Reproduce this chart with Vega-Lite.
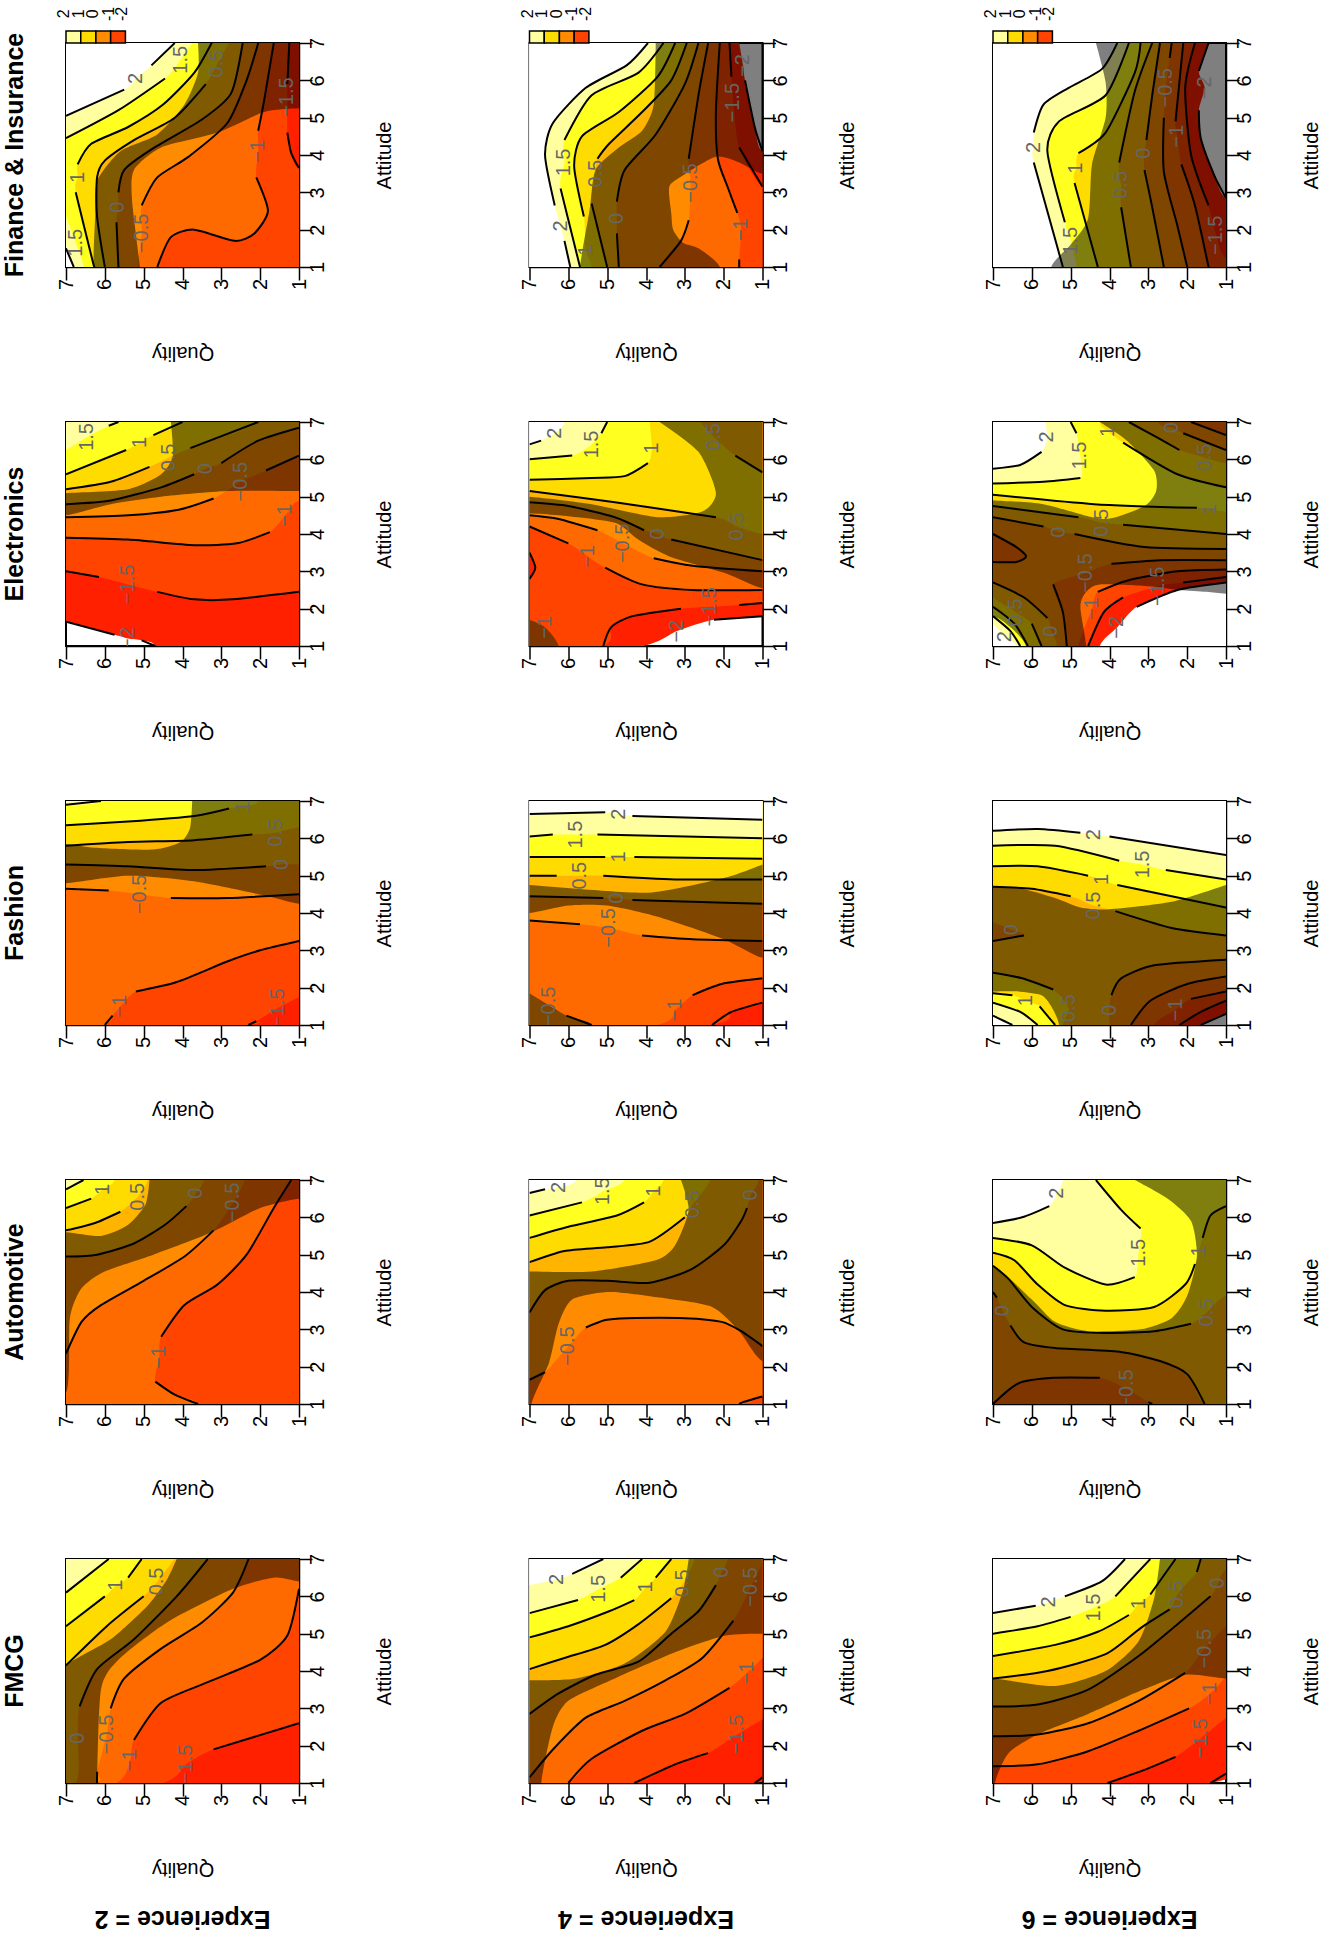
{"$schema":"https://vega.github.io/schema/vega-lite/v6.json","padding":{"left":2,"top":5,"right":0,"bottom":40},"background":"white","config":{"font":"Liberation Sans","view":{"stroke":"black","strokeWidth":2},"axis":{"titleFontSize":20,"titleFontWeight":"normal","titleColor":"black","tickSize":13,"tickWidth":1.5,"tickColor":"black","domainColor":"black","domainWidth":1.5,"grid":false,"labelAngle":270,"labelAlign":"center","labelBaseline":"middle","labelFontSize":20,"labelColor":"black"},"axisX":{"titleAngle":180,"titlePadding":73,"labelPadding":4},"axisY":{"titleAngle":270,"titlePadding":67,"labelPadding":5}},
"bounds":"flush","spacing":{"row":155,"column":230.5},"resolve":{"axis":{"x":"independent","y":"independent"}},
"facet":{"row":{"field":"c","type":"nominal","sort":["F","E","S","A","M"],"header":{"title":null,"labelExpr":"{'F':'Finance & Insurance','E':'Electronics','S':'Fashion','A':'Automotive','M':'FMCG'}[datum.value]","labelAngle":270,"labelOrient":"left","labelAlign":"center","labelFont":"Liberation Sans","labelFontWeight":"bold","labelFontSize":25,"labelColor":"black","labelPadding":13}},"column":{"field":"e","type":"ordinal","header":{"title":null,"labelExpr":"'Experience = '+datum.value","labelAngle":180,"labelOrient":"bottom","labelAlign":"center","labelFont":"Liberation Sans","labelFontWeight":"bold","labelFontSize":25,"labelColor":"black","labelPadding":148}}},
"data":{"values":[
{"c":"M","e":2,"g":1,"z":-2,"q":8,"a":0,"k":1},{"c":"M","e":2,"g":1,"z":-2,"q":8,"a":8,"k":1},{"c":"M","e":2,"g":1,"z":-2,"q":0,"a":8,"k":1},{"c":"M","e":2,"g":1,"z":-2,"q":0,"a":0,"k":1},
{"c":"M","e":2,"g":2,"z":-1.5,"q":1,"a":2.6},{"c":"M","e":2,"g":2,"z":-1.5,"q":3.2,"a":1.9},{"c":"M","e":2,"g":2,"z":-1.5,"q":3.9,"a":1.5,"s":"−1.5"},{"c":"M","e":2,"g":2,"z":-1.5,"q":4.5,"a":1},{"c":"M","e":2,"g":2,"z":-1.5,"q":8,"a":0,"k":1},{"c":"M","e":2,"g":2,"z":-1.5,"q":8,"a":8,"k":1},{"c":"M","e":2,"g":2,"z":-1.5,"q":0,"a":8,"k":1},{"c":"M","e":2,"g":2,"z":-1.5,"q":0,"a":2.6,"k":1},
{"c":"M","e":2,"g":3,"z":-1,"q":1,"a":6.2},{"c":"M","e":2,"g":3,"z":-1,"q":1.3,"a":4.95},{"c":"M","e":2,"g":3,"z":-1,"q":2,"a":4.3},{"c":"M","e":2,"g":3,"z":-1,"q":3.35,"a":3.7},{"c":"M","e":2,"g":3,"z":-1,"q":4.55,"a":3.15},{"c":"M","e":2,"g":3,"z":-1,"q":5.25,"a":2.15},{"c":"M","e":2,"g":3,"z":-1,"q":5.35,"a":1.6,"s":"−1"},{"c":"M","e":2,"g":3,"z":-1,"q":5.7,"a":1},{"c":"M","e":2,"g":3,"z":-1,"q":8,"a":0,"k":1},{"c":"M","e":2,"g":3,"z":-1,"q":8,"a":8,"k":1},{"c":"M","e":2,"g":3,"z":-1,"q":0,"a":8,"k":1},{"c":"M","e":2,"g":3,"z":-1,"q":0,"a":6.2,"k":1},
{"c":"M","e":2,"g":4,"z":-0.5,"q":2.3,"a":7},{"c":"M","e":2,"g":4,"z":-0.5,"q":2.7,"a":6.1},{"c":"M","e":2,"g":4,"z":-0.5,"q":3.5,"a":5.3},{"c":"M","e":2,"g":4,"z":-0.5,"q":4.55,"a":4.6},{"c":"M","e":2,"g":4,"z":-0.5,"q":5.5,"a":3.8},{"c":"M","e":2,"g":4,"z":-0.5,"q":5.85,"a":3},{"c":"M","e":2,"g":4,"z":-0.5,"q":5.95,"a":2.3,"s":"−0.5"},{"c":"M","e":2,"g":4,"z":-0.5,"q":6.2,"a":1.3},{"c":"M","e":2,"g":4,"z":-0.5,"q":6.2,"a":1},{"c":"M","e":2,"g":4,"z":-0.5,"q":8,"a":0,"k":1},{"c":"M","e":2,"g":4,"z":-0.5,"q":8,"a":8,"k":1},{"c":"M","e":2,"g":4,"z":-0.5,"q":2.3,"a":8,"k":1},
{"c":"M","e":2,"g":5,"z":0,"q":3.35,"a":7},{"c":"M","e":2,"g":5,"z":0,"q":4.15,"a":6},{"c":"M","e":2,"g":5,"z":0,"q":5.25,"a":4.85},{"c":"M","e":2,"g":5,"z":0,"q":6.2,"a":4.05},{"c":"M","e":2,"g":5,"z":0,"q":6.65,"a":3.05},{"c":"M","e":2,"g":5,"z":0,"q":6.7,"a":2.2,"s":"0"},{"c":"M","e":2,"g":5,"z":0,"q":6.75,"a":1},{"c":"M","e":2,"g":5,"z":0,"q":8,"a":0,"k":1},{"c":"M","e":2,"g":5,"z":0,"q":8,"a":8,"k":1},{"c":"M","e":2,"g":5,"z":0,"q":3.35,"a":8,"k":1},
{"c":"M","e":2,"g":6,"z":0.5,"q":4.2,"a":7},{"c":"M","e":2,"g":6,"z":0.5,"q":4.65,"a":6.4,"s":"0.5"},{"c":"M","e":2,"g":6,"z":0.5,"q":5,"a":6},{"c":"M","e":2,"g":6,"z":0.5,"q":5.95,"a":5.2},{"c":"M","e":2,"g":6,"z":0.5,"q":7,"a":4.15},{"c":"M","e":2,"g":6,"z":0.5,"q":8,"a":4.1,"k":1},{"c":"M","e":2,"g":6,"z":0.5,"q":8,"a":8,"k":1},{"c":"M","e":2,"g":6,"z":0.5,"q":4.2,"a":8,"k":1},
{"c":"M","e":2,"g":7,"z":1,"q":5.05,"a":7},{"c":"M","e":2,"g":7,"z":1,"q":5.4,"a":6.5},{"c":"M","e":2,"g":7,"z":1,"q":5.7,"a":6.3,"s":"1"},{"c":"M","e":2,"g":7,"z":1,"q":6,"a":6},{"c":"M","e":2,"g":7,"z":1,"q":7,"a":5.2},{"c":"M","e":2,"g":7,"z":1,"q":8,"a":5.2,"k":1},{"c":"M","e":2,"g":7,"z":1,"q":8,"a":8,"k":1},{"c":"M","e":2,"g":7,"z":1,"q":5.05,"a":8,"k":1},
{"c":"M","e":2,"g":8,"z":1.5,"q":5.9,"a":7},{"c":"M","e":2,"g":8,"z":1.5,"q":7,"a":6.1},{"c":"M","e":2,"g":8,"z":1.5,"q":8,"a":6.1,"k":1},{"c":"M","e":2,"g":8,"z":1.5,"q":8,"a":8,"k":1},{"c":"M","e":2,"g":8,"z":1.5,"q":5.9,"a":8,"k":1},
{"c":"M","e":2,"g":9,"z":9,"q":4.15,"a":7},{"c":"M","e":2,"g":9,"z":9,"q":4.4,"a":6.45},{"c":"M","e":2,"g":9,"z":9,"q":4.9,"a":5.75},{"c":"M","e":2,"g":9,"z":9,"q":5.85,"a":4.85},{"c":"M","e":2,"g":9,"z":9,"q":7,"a":4.15},{"c":"M","e":2,"g":9,"z":9,"q":8,"a":3},{"c":"M","e":2,"g":9,"z":9,"q":8,"a":0},{"c":"M","e":2,"g":9,"z":9,"q":6.2,"a":0},{"c":"M","e":2,"g":9,"z":9,"q":6.2,"a":1},{"c":"M","e":2,"g":9,"z":9,"q":6.1,"a":3.5},{"c":"M","e":2,"g":9,"z":9,"q":5.65,"a":4.3},{"c":"M","e":2,"g":9,"z":9,"q":4.4,"a":5.3},{"c":"M","e":2,"g":9,"z":9,"q":2.7,"a":6.2},{"c":"M","e":2,"g":9,"z":9,"q":1.65,"a":6.5},{"c":"M","e":2,"g":9,"z":9,"q":1,"a":6.4},{"c":"M","e":2,"g":9,"z":9,"q":0,"a":6.3},{"c":"M","e":2,"g":9,"z":9,"q":0,"a":8},{"c":"M","e":2,"g":9,"z":9,"q":4.15,"a":8},

{"c":"M","e":4,"g":1,"z":-2,"q":1,"a":1.15},{"c":"M","e":4,"g":1,"z":-2,"q":1.2,"a":1},{"c":"M","e":4,"g":1,"z":-2,"q":8,"a":0,"k":1},{"c":"M","e":4,"g":1,"z":-2,"q":8,"a":8,"k":1},{"c":"M","e":4,"g":1,"z":-2,"q":0,"a":8,"k":1},{"c":"M","e":4,"g":1,"z":-2,"q":0,"a":1.15,"k":1},
{"c":"M","e":4,"g":2,"z":-1.5,"q":1,"a":2.7},{"c":"M","e":4,"g":2,"z":-1.5,"q":1.65,"a":2.3,"s":"−1.5"},{"c":"M","e":4,"g":2,"z":-1.5,"q":2.4,"a":1.8},{"c":"M","e":4,"g":2,"z":-1.5,"q":3.25,"a":1.5},{"c":"M","e":4,"g":2,"z":-1.5,"q":4.3,"a":1},{"c":"M","e":4,"g":2,"z":-1.5,"q":8,"a":0,"k":1},{"c":"M","e":4,"g":2,"z":-1.5,"q":8,"a":8,"k":1},{"c":"M","e":4,"g":2,"z":-1.5,"q":0,"a":8,"k":1},{"c":"M","e":4,"g":2,"z":-1.5,"q":0,"a":2.7,"k":1},
{"c":"M","e":4,"g":3,"z":-1,"q":1,"a":4.35},{"c":"M","e":4,"g":3,"z":-1,"q":1.4,"a":3.95,"s":"−1"},{"c":"M","e":4,"g":3,"z":-1,"q":1.85,"a":3.55},{"c":"M","e":4,"g":3,"z":-1,"q":3,"a":2.85},{"c":"M","e":4,"g":3,"z":-1,"q":4.1,"a":2.4},{"c":"M","e":4,"g":3,"z":-1,"q":5.4,"a":1.65},{"c":"M","e":4,"g":3,"z":-1,"q":6,"a":1},{"c":"M","e":4,"g":3,"z":-1,"q":8,"a":0,"k":1},{"c":"M","e":4,"g":3,"z":-1,"q":8,"a":8,"k":1},{"c":"M","e":4,"g":3,"z":-1,"q":0,"a":8,"k":1},{"c":"M","e":4,"g":3,"z":-1,"q":0,"a":4.35,"k":1},
{"c":"M","e":4,"g":4,"z":-0.5,"q":1,"a":6.9},{"c":"M","e":4,"g":4,"z":-0.5,"q":1.3,"a":6.25,"s":"−0.5"},{"c":"M","e":4,"g":4,"z":-0.5,"q":1.75,"a":5.35},{"c":"M","e":4,"g":4,"z":-0.5,"q":2.55,"a":4.35},{"c":"M","e":4,"g":4,"z":-0.5,"q":3.5,"a":3.75},{"c":"M","e":4,"g":4,"z":-0.5,"q":4.55,"a":3.2},{"c":"M","e":4,"g":4,"z":-0.5,"q":5.55,"a":2.75},{"c":"M","e":4,"g":4,"z":-0.5,"q":6.35,"a":1.95},{"c":"M","e":4,"g":4,"z":-0.5,"q":7,"a":1.15},{"c":"M","e":4,"g":4,"z":-0.5,"q":8,"a":1,"k":1},{"c":"M","e":4,"g":4,"z":-0.5,"q":8,"a":8,"k":1},{"c":"M","e":4,"g":4,"z":-0.5,"q":1,"a":8,"k":1},
{"c":"M","e":4,"g":5,"z":0,"q":7,"a":2.85},{"c":"M","e":4,"g":5,"z":0,"q":6.25,"a":3.4},{"c":"M","e":4,"g":5,"z":0,"q":5.3,"a":3.9},{"c":"M","e":4,"g":5,"z":0,"q":4.2,"a":4.25},{"c":"M","e":4,"g":5,"z":0,"q":3.35,"a":5},{"c":"M","e":4,"g":5,"z":0,"q":2.65,"a":5.6},{"c":"M","e":4,"g":5,"z":0,"q":2.2,"a":6.3},{"c":"M","e":4,"g":5,"z":0,"q":2.05,"a":6.65,"s":"0"},{"c":"M","e":4,"g":5,"z":0,"q":1.9,"a":7},{"c":"M","e":4,"g":5,"z":0,"q":1.9,"a":8,"k":1},{"c":"M","e":4,"g":5,"z":0,"q":8,"a":8,"k":1},{"c":"M","e":4,"g":5,"z":0,"q":8,"a":2.85,"k":1},
{"c":"M","e":4,"g":6,"z":0.5,"q":7,"a":4.05},{"c":"M","e":4,"g":6,"z":0.5,"q":6.1,"a":4.35},{"c":"M","e":4,"g":6,"z":0.5,"q":5.05,"a":4.7},{"c":"M","e":4,"g":6,"z":0.5,"q":4.2,"a":5.25},{"c":"M","e":4,"g":6,"z":0.5,"q":3.35,"a":5.95},{"c":"M","e":4,"g":6,"z":0.5,"q":3.05,"a":6.35,"s":"0.5"},{"c":"M","e":4,"g":6,"z":0.5,"q":2.75,"a":7},{"c":"M","e":4,"g":6,"z":0.5,"q":2.75,"a":8,"k":1},{"c":"M","e":4,"g":6,"z":0.5,"q":8,"a":8,"k":1},{"c":"M","e":4,"g":6,"z":0.5,"q":8,"a":4.05,"k":1},
{"c":"M","e":4,"g":7,"z":1,"q":7,"a":4.9},{"c":"M","e":4,"g":7,"z":1,"q":6,"a":5.2},{"c":"M","e":4,"g":7,"z":1,"q":4.95,"a":5.6},{"c":"M","e":4,"g":7,"z":1,"q":4.3,"a":5.9},{"c":"M","e":4,"g":7,"z":1,"q":4,"a":6.25,"s":"1"},{"c":"M","e":4,"g":7,"z":1,"q":3.75,"a":6.5},{"c":"M","e":4,"g":7,"z":1,"q":3.35,"a":7},{"c":"M","e":4,"g":7,"z":1,"q":3.35,"a":8,"k":1},{"c":"M","e":4,"g":7,"z":1,"q":8,"a":8,"k":1},{"c":"M","e":4,"g":7,"z":1,"q":8,"a":4.9,"k":1},
{"c":"M","e":4,"g":8,"z":1.5,"q":7,"a":5.55},{"c":"M","e":4,"g":8,"z":1.5,"q":5.75,"a":5.9},{"c":"M","e":4,"g":8,"z":1.5,"q":5.2,"a":6.2,"s":"1.5"},{"c":"M","e":4,"g":8,"z":1.5,"q":4.65,"a":6.5},{"c":"M","e":4,"g":8,"z":1.5,"q":4.1,"a":7},{"c":"M","e":4,"g":8,"z":1.5,"q":4.1,"a":8,"k":1},{"c":"M","e":4,"g":8,"z":1.5,"q":8,"a":8,"k":1},{"c":"M","e":4,"g":8,"z":1.5,"q":8,"a":5.55,"k":1},
{"c":"M","e":4,"g":9,"z":2,"q":7,"a":6.3},{"c":"M","e":4,"g":9,"z":2,"q":6.3,"a":6.45,"s":"2"},{"c":"M","e":4,"g":9,"z":2,"q":5.9,"a":6.6},{"c":"M","e":4,"g":9,"z":2,"q":5.1,"a":7},{"c":"M","e":4,"g":9,"z":2,"q":5.1,"a":8,"k":1},{"c":"M","e":4,"g":9,"z":2,"q":8,"a":8,"k":1},{"c":"M","e":4,"g":9,"z":2,"q":8,"a":6.3,"k":1},
{"c":"M","e":4,"g":10,"z":9,"q":2.9,"a":7},{"c":"M","e":4,"g":10,"z":9,"q":3.05,"a":6.15},{"c":"M","e":4,"g":10,"z":9,"q":3.5,"a":5.05},{"c":"M","e":4,"g":10,"z":9,"q":4.55,"a":4.2},{"c":"M","e":4,"g":10,"z":9,"q":5.8,"a":3.8},{"c":"M","e":4,"g":10,"z":9,"q":7,"a":3.75},{"c":"M","e":4,"g":10,"z":9,"q":8,"a":3.75},{"c":"M","e":4,"g":10,"z":9,"q":8,"a":0},{"c":"M","e":4,"g":10,"z":9,"q":6.7,"a":0},{"c":"M","e":4,"g":10,"z":9,"q":6.7,"a":1},{"c":"M","e":4,"g":10,"z":9,"q":6.4,"a":2.5},{"c":"M","e":4,"g":10,"z":9,"q":6,"a":3.2},{"c":"M","e":4,"g":10,"z":9,"q":4.8,"a":3.8},{"c":"M","e":4,"g":10,"z":9,"q":3.25,"a":4.5},{"c":"M","e":4,"g":10,"z":9,"q":1.95,"a":4.95},{"c":"M","e":4,"g":10,"z":9,"q":1,"a":5},{"c":"M","e":4,"g":10,"z":9,"q":0,"a":5},{"c":"M","e":4,"g":10,"z":9,"q":0,"a":8},{"c":"M","e":4,"g":10,"z":9,"q":2.9,"a":8},

{"c":"M","e":6,"g":1,"z":-2,"q":1,"a":1.25},{"c":"M","e":6,"g":1,"z":-2,"q":1.4,"a":1},{"c":"M","e":6,"g":1,"z":-2,"q":8,"a":0,"k":1},{"c":"M","e":6,"g":1,"z":-2,"q":8,"a":8,"k":1},{"c":"M","e":6,"g":1,"z":-2,"q":0,"a":8,"k":1},{"c":"M","e":6,"g":1,"z":-2,"q":0,"a":1.25,"k":1},
{"c":"M","e":6,"g":2,"z":-1.5,"q":1,"a":2.75},{"c":"M","e":6,"g":2,"z":-1.5,"q":1.65,"a":2.2,"s":"−1.5"},{"c":"M","e":6,"g":2,"z":-1.5,"q":2.3,"a":1.7},{"c":"M","e":6,"g":2,"z":-1.5,"q":3.1,"a":1.35},{"c":"M","e":6,"g":2,"z":-1.5,"q":4.05,"a":1},{"c":"M","e":6,"g":2,"z":-1.5,"q":8,"a":0,"k":1},{"c":"M","e":6,"g":2,"z":-1.5,"q":8,"a":8,"k":1},{"c":"M","e":6,"g":2,"z":-1.5,"q":0,"a":8,"k":1},{"c":"M","e":6,"g":2,"z":-1.5,"q":0,"a":2.75,"k":1},
{"c":"M","e":6,"g":3,"z":-1,"q":1,"a":3.85},{"c":"M","e":6,"g":3,"z":-1,"q":1.4,"a":3.4,"s":"−1"},{"c":"M","e":6,"g":3,"z":-1,"q":1.95,"a":3},{"c":"M","e":6,"g":3,"z":-1,"q":3.25,"a":2.4},{"c":"M","e":6,"g":3,"z":-1,"q":4.55,"a":1.85},{"c":"M","e":6,"g":3,"z":-1,"q":5.85,"a":1.5},{"c":"M","e":6,"g":3,"z":-1,"q":7,"a":1.45},{"c":"M","e":6,"g":3,"z":-1,"q":8,"a":1.45,"k":1},{"c":"M","e":6,"g":3,"z":-1,"q":8,"a":8,"k":1},{"c":"M","e":6,"g":3,"z":-1,"q":0,"a":8,"k":1},{"c":"M","e":6,"g":3,"z":-1,"q":0,"a":3.85,"k":1},
{"c":"M","e":6,"g":4,"z":-0.5,"q":1,"a":5.2},{"c":"M","e":6,"g":4,"z":-0.5,"q":1.55,"a":4.6,"s":"−0.5"},{"c":"M","e":6,"g":4,"z":-0.5,"q":2.05,"a":3.95},{"c":"M","e":6,"g":4,"z":-0.5,"q":3.25,"a":3.2},{"c":"M","e":6,"g":4,"z":-0.5,"q":4.55,"a":2.6},{"c":"M","e":6,"g":4,"z":-0.5,"q":5.85,"a":2.3},{"c":"M","e":6,"g":4,"z":-0.5,"q":7,"a":2.25},{"c":"M","e":6,"g":4,"z":-0.5,"q":8,"a":2.25,"k":1},{"c":"M","e":6,"g":4,"z":-0.5,"q":8,"a":8,"k":1},{"c":"M","e":6,"g":4,"z":-0.5,"q":0,"a":8,"k":1},{"c":"M","e":6,"g":4,"z":-0.5,"q":0,"a":5.2,"k":1},
{"c":"M","e":6,"g":5,"z":0,"q":7,"a":3.05},{"c":"M","e":6,"g":5,"z":0,"q":5.85,"a":3.1},{"c":"M","e":6,"g":5,"z":0,"q":4.55,"a":3.5},{"c":"M","e":6,"g":5,"z":0,"q":3.25,"a":4.4},{"c":"M","e":6,"g":5,"z":0,"q":2.25,"a":5.25},{"c":"M","e":6,"g":5,"z":0,"q":1.4,"a":6},{"c":"M","e":6,"g":5,"z":0,"q":1.2,"a":6.35,"s":"0"},{"c":"M","e":6,"g":5,"z":0,"q":1,"a":6.7},{"c":"M","e":6,"g":5,"z":0,"q":0,"a":6.7,"k":1},{"c":"M","e":6,"g":5,"z":0,"q":0,"a":8,"k":1},{"c":"M","e":6,"g":5,"z":0,"q":8,"a":8,"k":1},{"c":"M","e":6,"g":5,"z":0,"q":8,"a":3.05,"k":1},
{"c":"M","e":6,"g":6,"z":0.5,"q":7,"a":3.8},{"c":"M","e":6,"g":6,"z":0.5,"q":5.6,"a":4},{"c":"M","e":6,"g":6,"z":0.5,"q":4.1,"a":4.45},{"c":"M","e":6,"g":6,"z":0.5,"q":3.2,"a":5.15},{"c":"M","e":6,"g":6,"z":0.5,"q":2.45,"a":5.65},{"c":"M","e":6,"g":6,"z":0.5,"q":2.25,"a":6.05,"s":"0.5"},{"c":"M","e":6,"g":6,"z":0.5,"q":1.75,"a":6.65},{"c":"M","e":6,"g":6,"z":0.5,"q":1.65,"a":7},{"c":"M","e":6,"g":6,"z":0.5,"q":1.65,"a":8,"k":1},{"c":"M","e":6,"g":6,"z":0.5,"q":8,"a":8,"k":1},{"c":"M","e":6,"g":6,"z":0.5,"q":8,"a":3.8,"k":1},
{"c":"M","e":6,"g":7,"z":1,"q":7,"a":4.4},{"c":"M","e":6,"g":7,"z":1,"q":5.4,"a":4.7},{"c":"M","e":6,"g":7,"z":1,"q":4.3,"a":5.05},{"c":"M","e":6,"g":7,"z":1,"q":3.5,"a":5.5},{"c":"M","e":6,"g":7,"z":1,"q":3.25,"a":5.8,"s":"1"},{"c":"M","e":6,"g":7,"z":1,"q":2.95,"a":6.05},{"c":"M","e":6,"g":7,"z":1,"q":2.3,"a":7},{"c":"M","e":6,"g":7,"z":1,"q":2.3,"a":8,"k":1},{"c":"M","e":6,"g":7,"z":1,"q":8,"a":8,"k":1},{"c":"M","e":6,"g":7,"z":1,"q":8,"a":4.4,"k":1},
{"c":"M","e":6,"g":8,"z":1.5,"q":7,"a":5},{"c":"M","e":6,"g":8,"z":1.5,"q":5.85,"a":5.2},{"c":"M","e":6,"g":8,"z":1.5,"q":5,"a":5.45},{"c":"M","e":6,"g":8,"z":1.5,"q":4.4,"a":5.7,"s":"1.5"},{"c":"M","e":6,"g":8,"z":1.5,"q":3.85,"a":6},{"c":"M","e":6,"g":8,"z":1.5,"q":2.95,"a":7},{"c":"M","e":6,"g":8,"z":1.5,"q":2.95,"a":8,"k":1},{"c":"M","e":6,"g":8,"z":1.5,"q":8,"a":8,"k":1},{"c":"M","e":6,"g":8,"z":1.5,"q":8,"a":5,"k":1},
{"c":"M","e":6,"g":9,"z":2,"q":7,"a":5.55},{"c":"M","e":6,"g":9,"z":2,"q":5.9,"a":5.75},{"c":"M","e":6,"g":9,"z":2,"q":5.55,"a":5.85,"s":"2"},{"c":"M","e":6,"g":9,"z":2,"q":5.15,"a":6},{"c":"M","e":6,"g":9,"z":2,"q":4.2,"a":6.4},{"c":"M","e":6,"g":9,"z":2,"q":3.6,"a":7},{"c":"M","e":6,"g":9,"z":2,"q":3.6,"a":8,"k":1},{"c":"M","e":6,"g":9,"z":2,"q":8,"a":8,"k":1},{"c":"M","e":6,"g":9,"z":2,"q":8,"a":5.55,"k":1},
{"c":"M","e":6,"g":10,"z":9,"q":2.7,"a":7},{"c":"M","e":6,"g":10,"z":9,"q":2.85,"a":5.95},{"c":"M","e":6,"g":10,"z":9,"q":3.25,"a":4.8},{"c":"M","e":6,"g":10,"z":9,"q":4.1,"a":4},{"c":"M","e":6,"g":10,"z":9,"q":5.4,"a":3.6},{"c":"M","e":6,"g":10,"z":9,"q":7,"a":3.8},{"c":"M","e":6,"g":10,"z":9,"q":8,"a":3.8},{"c":"M","e":6,"g":10,"z":9,"q":8,"a":0},{"c":"M","e":6,"g":10,"z":9,"q":6.95,"a":0},{"c":"M","e":6,"g":10,"z":9,"q":6.95,"a":1},{"c":"M","e":6,"g":10,"z":9,"q":6.6,"a":1.8},{"c":"M","e":6,"g":10,"z":9,"q":5.85,"a":2.3},{"c":"M","e":6,"g":10,"z":9,"q":4.55,"a":2.85},{"c":"M","e":6,"g":10,"z":9,"q":3.25,"a":3.45},{"c":"M","e":6,"g":10,"z":9,"q":2.05,"a":3.9},{"c":"M","e":6,"g":10,"z":9,"q":1,"a":3.8},{"c":"M","e":6,"g":10,"z":9,"q":0,"a":3.8},{"c":"M","e":6,"g":10,"z":9,"q":0,"a":8},{"c":"M","e":6,"g":10,"z":9,"q":2.7,"a":8},

{"c":"A","e":2,"g":1,"z":-1.5,"q":8,"a":0,"k":1},{"c":"A","e":2,"g":1,"z":-1.5,"q":8,"a":8,"k":1},{"c":"A","e":2,"g":1,"z":-1.5,"q":0,"a":8,"k":1},{"c":"A","e":2,"g":1,"z":-1.5,"q":0,"a":0,"k":1},
{"c":"A","e":2,"g":2,"z":-1,"q":1.2,"a":7},{"c":"A","e":2,"g":2,"z":-1,"q":1.65,"a":6.25},{"c":"A","e":2,"g":2,"z":-1,"q":2.35,"a":5},{"c":"A","e":2,"g":2,"z":-1,"q":3.1,"a":4.2},{"c":"A","e":2,"g":2,"z":-1,"q":3.95,"a":3.65},{"c":"A","e":2,"g":2,"z":-1,"q":4.55,"a":2.8},{"c":"A","e":2,"g":2,"z":-1,"q":4.6,"a":2.25,"s":"−1"},{"c":"A","e":2,"g":2,"z":-1,"q":4.7,"a":1.6},{"c":"A","e":2,"g":2,"z":-1,"q":4.2,"a":1.25},{"c":"A","e":2,"g":2,"z":-1,"q":3.6,"a":1},{"c":"A","e":2,"g":2,"z":-1,"q":3.6,"a":0,"k":1},{"c":"A","e":2,"g":2,"z":-1,"q":8,"a":0,"k":1},{"c":"A","e":2,"g":2,"z":-1,"q":8,"a":8,"k":1},{"c":"A","e":2,"g":2,"z":-1,"q":1.2,"a":8,"k":1},
{"c":"A","e":2,"g":3,"z":-0.5,"q":7,"a":2.35},{"c":"A","e":2,"g":3,"z":-0.5,"q":6.6,"a":3.2},{"c":"A","e":2,"g":3,"z":-0.5,"q":6.1,"a":3.65},{"c":"A","e":2,"g":3,"z":-0.5,"q":5,"a":4.3},{"c":"A","e":2,"g":3,"z":-0.5,"q":3.95,"a":4.95},{"c":"A","e":2,"g":3,"z":-0.5,"q":3.2,"a":5.65},{"c":"A","e":2,"g":3,"z":-0.5,"q":2.7,"a":6.4,"s":"−0.5"},{"c":"A","e":2,"g":3,"z":-0.5,"q":2.4,"a":7},{"c":"A","e":2,"g":3,"z":-0.5,"q":2.4,"a":8,"k":1},{"c":"A","e":2,"g":3,"z":-0.5,"q":8,"a":8,"k":1},{"c":"A","e":2,"g":3,"z":-0.5,"q":8,"a":2.35,"k":1},
{"c":"A","e":2,"g":4,"z":0,"q":7,"a":4.95},{"c":"A","e":2,"g":4,"z":0,"q":6.2,"a":5},{"c":"A","e":2,"g":4,"z":0,"q":5.25,"a":5.3},{"c":"A","e":2,"g":4,"z":0,"q":4.45,"a":5.8},{"c":"A","e":2,"g":4,"z":0,"q":3.9,"a":6.3},{"c":"A","e":2,"g":4,"z":0,"q":3.65,"a":6.65,"s":"0"},{"c":"A","e":2,"g":4,"z":0,"q":3.45,"a":7},{"c":"A","e":2,"g":4,"z":0,"q":3.45,"a":8,"k":1},{"c":"A","e":2,"g":4,"z":0,"q":8,"a":8,"k":1},{"c":"A","e":2,"g":4,"z":0,"q":8,"a":4.95,"k":1},
{"c":"A","e":2,"g":5,"z":0.5,"q":7,"a":5.65},{"c":"A","e":2,"g":5,"z":0.5,"q":6.25,"a":5.85},{"c":"A","e":2,"g":5,"z":0.5,"q":5.6,"a":6.15},{"c":"A","e":2,"g":5,"z":0.5,"q":5.15,"a":6.55,"s":"0.5"},{"c":"A","e":2,"g":5,"z":0.5,"q":4.9,"a":7},{"c":"A","e":2,"g":5,"z":0.5,"q":4.9,"a":8,"k":1},{"c":"A","e":2,"g":5,"z":0.5,"q":8,"a":8,"k":1},{"c":"A","e":2,"g":5,"z":0.5,"q":8,"a":5.65,"k":1},
{"c":"A","e":2,"g":6,"z":1,"q":7,"a":6.25},{"c":"A","e":2,"g":6,"z":1,"q":6.35,"a":6.5},{"c":"A","e":2,"g":6,"z":1,"q":6.05,"a":6.75,"s":"1"},{"c":"A","e":2,"g":6,"z":1,"q":5.75,"a":7},{"c":"A","e":2,"g":6,"z":1,"q":5.75,"a":8,"k":1},{"c":"A","e":2,"g":6,"z":1,"q":8,"a":8,"k":1},{"c":"A","e":2,"g":6,"z":1,"q":8,"a":6.25,"k":1},
{"c":"A","e":2,"g":7,"z":1.5,"q":7,"a":6.75},{"c":"A","e":2,"g":7,"z":1.5,"q":6.55,"a":7},{"c":"A","e":2,"g":7,"z":1.5,"q":6.55,"a":8,"k":1},{"c":"A","e":2,"g":7,"z":1.5,"q":8,"a":8,"k":1},{"c":"A","e":2,"g":7,"z":1.5,"q":8,"a":6.75,"k":1},
{"c":"A","e":2,"g":8,"z":9,"q":4.85,"a":7},{"c":"A","e":2,"g":8,"z":9,"q":4.95,"a":6.35},{"c":"A","e":2,"g":8,"z":9,"q":5.4,"a":5.8},{"c":"A","e":2,"g":8,"z":9,"q":6.1,"a":5.5},{"c":"A","e":2,"g":8,"z":9,"q":7,"a":5.6},{"c":"A","e":2,"g":8,"z":9,"q":8,"a":5.6},{"c":"A","e":2,"g":8,"z":9,"q":8,"a":1.3},{"c":"A","e":2,"g":8,"z":9,"q":7,"a":1.3},{"c":"A","e":2,"g":8,"z":9,"q":6.9,"a":3.3},{"c":"A","e":2,"g":8,"z":9,"q":6.6,"a":4.1},{"c":"A","e":2,"g":8,"z":9,"q":6,"a":4.55},{"c":"A","e":2,"g":8,"z":9,"q":4.75,"a":5},{"c":"A","e":2,"g":8,"z":9,"q":3.25,"a":5.6},{"c":"A","e":2,"g":8,"z":9,"q":2,"a":6.25},{"c":"A","e":2,"g":8,"z":9,"q":1,"a":6.5},{"c":"A","e":2,"g":8,"z":9,"q":0,"a":6.5},{"c":"A","e":2,"g":8,"z":9,"q":0,"a":8},{"c":"A","e":2,"g":8,"z":9,"q":4.85,"a":8},

{"c":"A","e":4,"g":1,"z":-1.5,"q":8,"a":0,"k":1},{"c":"A","e":4,"g":1,"z":-1.5,"q":8,"a":8,"k":1},{"c":"A","e":4,"g":1,"z":-1.5,"q":0,"a":8,"k":1},{"c":"A","e":4,"g":1,"z":-1.5,"q":0,"a":0,"k":1},
{"c":"A","e":4,"g":2,"z":-1,"q":1,"a":1.2},{"c":"A","e":4,"g":2,"z":-1,"q":1.5,"a":1.05},{"c":"A","e":4,"g":2,"z":-1,"q":1.6,"a":1},{"c":"A","e":4,"g":2,"z":-1,"q":8,"a":0,"k":1},{"c":"A","e":4,"g":2,"z":-1,"q":8,"a":8,"k":1},{"c":"A","e":4,"g":2,"z":-1,"q":0,"a":8,"k":1},{"c":"A","e":4,"g":2,"z":-1,"q":0,"a":1.2,"k":1},
{"c":"A","e":4,"g":3,"z":-0.5,"q":1,"a":2.55},{"c":"A","e":4,"g":3,"z":-0.5,"q":1.55,"a":2.95},{"c":"A","e":4,"g":3,"z":-0.5,"q":2.05,"a":3.2},{"c":"A","e":4,"g":3,"z":-0.5,"q":3,"a":3.3},{"c":"A","e":4,"g":3,"z":-0.5,"q":4.5,"a":3.3},{"c":"A","e":4,"g":3,"z":-0.5,"q":5.05,"a":3.25},{"c":"A","e":4,"g":3,"z":-0.5,"q":5.55,"a":3.05},{"c":"A","e":4,"g":3,"z":-0.5,"q":6,"a":2.55,"s":"−0.5"},{"c":"A","e":4,"g":3,"z":-0.5,"q":6.6,"a":1.85},{"c":"A","e":4,"g":3,"z":-0.5,"q":7,"a":1.65},{"c":"A","e":4,"g":3,"z":-0.5,"q":8,"a":1.65,"k":1},{"c":"A","e":4,"g":3,"z":-0.5,"q":8,"a":8,"k":1},{"c":"A","e":4,"g":3,"z":-0.5,"q":0,"a":8,"k":1},{"c":"A","e":4,"g":3,"z":-0.5,"q":0,"a":2.55,"k":1},
{"c":"A","e":4,"g":4,"z":0,"q":7,"a":3.45},{"c":"A","e":4,"g":4,"z":0,"q":6.6,"a":4.05},{"c":"A","e":4,"g":4,"z":0,"q":6,"a":4.3},{"c":"A","e":4,"g":4,"z":0,"q":5,"a":4.3},{"c":"A","e":4,"g":4,"z":0,"q":3.9,"a":4.25},{"c":"A","e":4,"g":4,"z":0,"q":2.85,"a":4.6},{"c":"A","e":4,"g":4,"z":0,"q":2,"a":5.25},{"c":"A","e":4,"g":4,"z":0,"q":1.55,"a":5.9},{"c":"A","e":4,"g":4,"z":0,"q":1.4,"a":6.25},{"c":"A","e":4,"g":4,"z":0,"q":1.3,"a":6.6,"s":"0"},{"c":"A","e":4,"g":4,"z":0,"q":1.1,"a":7},{"c":"A","e":4,"g":4,"z":0,"q":1.1,"a":8,"k":1},{"c":"A","e":4,"g":4,"z":0,"q":8,"a":8,"k":1},{"c":"A","e":4,"g":4,"z":0,"q":8,"a":3.45,"k":1},
{"c":"A","e":4,"g":5,"z":0.5,"q":7,"a":4.8},{"c":"A","e":4,"g":5,"z":0.5,"q":6.1,"a":5.1},{"c":"A","e":4,"g":5,"z":0.5,"q":5,"a":5.2},{"c":"A","e":4,"g":5,"z":0.5,"q":3.9,"a":5.35},{"c":"A","e":4,"g":5,"z":0.5,"q":3,"a":6},{"c":"A","e":4,"g":5,"z":0.5,"q":2.8,"a":6.35,"s":"0.5"},{"c":"A","e":4,"g":5,"z":0.5,"q":2.35,"a":7},{"c":"A","e":4,"g":5,"z":0.5,"q":2.35,"a":8,"k":1},{"c":"A","e":4,"g":5,"z":0.5,"q":8,"a":8,"k":1},{"c":"A","e":4,"g":5,"z":0.5,"q":8,"a":4.8,"k":1},
{"c":"A","e":4,"g":6,"z":1,"q":7,"a":5.45},{"c":"A","e":4,"g":6,"z":1,"q":6,"a":5.75},{"c":"A","e":4,"g":6,"z":1,"q":4.75,"a":6.05},{"c":"A","e":4,"g":6,"z":1,"q":4.05,"a":6.4},{"c":"A","e":4,"g":6,"z":1,"q":3.8,"a":6.7,"s":"1"},{"c":"A","e":4,"g":6,"z":1,"q":3.55,"a":7},{"c":"A","e":4,"g":6,"z":1,"q":3.55,"a":8,"k":1},{"c":"A","e":4,"g":6,"z":1,"q":8,"a":8,"k":1},{"c":"A","e":4,"g":6,"z":1,"q":8,"a":5.45,"k":1},
{"c":"A","e":4,"g":7,"z":1.5,"q":7,"a":6.05},{"c":"A","e":4,"g":7,"z":1.5,"q":5.65,"a":6.4},{"c":"A","e":4,"g":7,"z":1.5,"q":5.1,"a":6.7,"s":"1.5"},{"c":"A","e":4,"g":7,"z":1.5,"q":4.55,"a":7},{"c":"A","e":4,"g":7,"z":1.5,"q":4.55,"a":8,"k":1},{"c":"A","e":4,"g":7,"z":1.5,"q":8,"a":8,"k":1},{"c":"A","e":4,"g":7,"z":1.5,"q":8,"a":6.05,"k":1},
{"c":"A","e":4,"g":8,"z":2,"q":7,"a":6.65},{"c":"A","e":4,"g":8,"z":2,"q":6.6,"a":6.75},{"c":"A","e":4,"g":8,"z":2,"q":6.25,"a":6.8,"s":"2"},{"c":"A","e":4,"g":8,"z":2,"q":5.8,"a":7},{"c":"A","e":4,"g":8,"z":2,"q":5.8,"a":8,"k":1},{"c":"A","e":4,"g":8,"z":2,"q":8,"a":8,"k":1},{"c":"A","e":4,"g":8,"z":2,"q":8,"a":6.65,"k":1},
{"c":"A","e":4,"g":9,"z":9,"q":3.1,"a":7},{"c":"A","e":4,"g":9,"z":9,"q":2.9,"a":6.2},{"c":"A","e":4,"g":9,"z":9,"q":3.25,"a":5.25},{"c":"A","e":4,"g":9,"z":9,"q":3.75,"a":4.85},{"c":"A","e":4,"g":9,"z":9,"q":5.4,"a":4.55},{"c":"A","e":4,"g":9,"z":9,"q":7,"a":4.55},{"c":"A","e":4,"g":9,"z":9,"q":8,"a":4.55},{"c":"A","e":4,"g":9,"z":9,"q":8,"a":0},{"c":"A","e":4,"g":9,"z":9,"q":6.95,"a":0},{"c":"A","e":4,"g":9,"z":9,"q":6.95,"a":1},{"c":"A","e":4,"g":9,"z":9,"q":6.5,"a":2.1},{"c":"A","e":4,"g":9,"z":9,"q":6.25,"a":3.15},{"c":"A","e":4,"g":9,"z":9,"q":5.9,"a":3.8},{"c":"A","e":4,"g":9,"z":9,"q":4.95,"a":4},{"c":"A","e":4,"g":9,"z":9,"q":3.65,"a":3.85},{"c":"A","e":4,"g":9,"z":9,"q":2.3,"a":3.6},{"c":"A","e":4,"g":9,"z":9,"q":1.6,"a":2.95},{"c":"A","e":4,"g":9,"z":9,"q":1,"a":2.15},{"c":"A","e":4,"g":9,"z":9,"q":0,"a":2.15},{"c":"A","e":4,"g":9,"z":9,"q":0,"a":8},{"c":"A","e":4,"g":9,"z":9,"q":3.1,"a":8},

{"c":"A","e":6,"g":1,"z":-1,"q":8,"a":0,"k":1},{"c":"A","e":6,"g":1,"z":-1,"q":8,"a":8,"k":1},{"c":"A","e":6,"g":1,"z":-1,"q":0,"a":8,"k":1},{"c":"A","e":6,"g":1,"z":-1,"q":0,"a":0,"k":1},
{"c":"A","e":6,"g":2,"z":-0.5,"q":7,"a":1},{"c":"A","e":6,"g":2,"z":-0.5,"q":6.35,"a":1.55},{"c":"A","e":6,"g":2,"z":-0.5,"q":5.45,"a":1.7},{"c":"A","e":6,"g":2,"z":-0.5,"q":4.25,"a":1.7},{"c":"A","e":6,"g":2,"z":-0.5,"q":3.55,"a":1.4,"s":"−0.5"},{"c":"A","e":6,"g":2,"z":-0.5,"q":3,"a":1.05},{"c":"A","e":6,"g":2,"z":-0.5,"q":2.9,"a":1},{"c":"A","e":6,"g":2,"z":-0.5,"q":0,"a":0,"k":1},{"c":"A","e":6,"g":2,"z":-0.5,"q":0,"a":8,"k":1},{"c":"A","e":6,"g":2,"z":-0.5,"q":8,"a":8,"k":1},{"c":"A","e":6,"g":2,"z":-0.5,"q":8,"a":1,"k":1},
{"c":"A","e":6,"g":3,"z":0,"q":7,"a":4},{"c":"A","e":6,"g":3,"z":0,"q":6.9,"a":3.85},{"c":"A","e":6,"g":3,"z":0,"q":6.75,"a":3.5,"s":"0"},{"c":"A","e":6,"g":3,"z":0,"q":6.55,"a":3.1},{"c":"A","e":6,"g":3,"z":0,"q":6.2,"a":2.65},{"c":"A","e":6,"g":3,"z":0,"q":5.4,"a":2.5},{"c":"A","e":6,"g":3,"z":0,"q":3.75,"a":2.4},{"c":"A","e":6,"g":3,"z":0,"q":2.7,"a":2.15},{"c":"A","e":6,"g":3,"z":0,"q":2,"a":1.8},{"c":"A","e":6,"g":3,"z":0,"q":1.55,"a":1},{"c":"A","e":6,"g":3,"z":0,"q":0,"a":0,"k":1},{"c":"A","e":6,"g":3,"z":0,"q":0,"a":8,"k":1},{"c":"A","e":6,"g":3,"z":0,"q":8,"a":8,"k":1},{"c":"A","e":6,"g":3,"z":0,"q":8,"a":4,"k":1},
{"c":"A","e":6,"g":4,"z":0.5,"q":7,"a":4.7},{"c":"A","e":6,"g":4,"z":0.5,"q":6.6,"a":4.35},{"c":"A","e":6,"g":4,"z":0.5,"q":6,"a":3.6},{"c":"A","e":6,"g":4,"z":0.5,"q":5.2,"a":3},{"c":"A","e":6,"g":4,"z":0.5,"q":4.1,"a":2.9},{"c":"A","e":6,"g":4,"z":0.5,"q":2.85,"a":2.95},{"c":"A","e":6,"g":4,"z":0.5,"q":1.9,"a":3.15},{"c":"A","e":6,"g":4,"z":0.5,"q":1.5,"a":3.45,"s":"0.5"},{"c":"A","e":6,"g":4,"z":0.5,"q":1,"a":3.9},{"c":"A","e":6,"g":4,"z":0.5,"q":0,"a":3.9,"k":1},{"c":"A","e":6,"g":4,"z":0.5,"q":0,"a":8,"k":1},{"c":"A","e":6,"g":4,"z":0.5,"q":8,"a":8,"k":1},{"c":"A","e":6,"g":4,"z":0.5,"q":8,"a":4.7,"k":1},
{"c":"A","e":6,"g":5,"z":1,"q":7,"a":5.05},{"c":"A","e":6,"g":5,"z":1,"q":6.45,"a":4.85},{"c":"A","e":6,"g":5,"z":1,"q":5.85,"a":4.2},{"c":"A","e":6,"g":5,"z":1,"q":5.15,"a":3.65},{"c":"A","e":6,"g":5,"z":1,"q":4.1,"a":3.5},{"c":"A","e":6,"g":5,"z":1,"q":2.85,"a":3.6},{"c":"A","e":6,"g":5,"z":1,"q":2.05,"a":4.2},{"c":"A","e":6,"g":5,"z":1,"q":1.8,"a":4.75},{"c":"A","e":6,"g":5,"z":1,"q":1.7,"a":5.1,"s":"1"},{"c":"A","e":6,"g":5,"z":1,"q":1.6,"a":5.45},{"c":"A","e":6,"g":5,"z":1,"q":1.4,"a":6.05},{"c":"A","e":6,"g":5,"z":1,"q":1,"a":6.3},{"c":"A","e":6,"g":5,"z":1,"q":0,"a":6.3,"k":1},{"c":"A","e":6,"g":5,"z":1,"q":0,"a":8,"k":1},{"c":"A","e":6,"g":5,"z":1,"q":8,"a":8,"k":1},{"c":"A","e":6,"g":5,"z":1,"q":8,"a":5.05,"k":1},
{"c":"A","e":6,"g":6,"z":1.5,"q":7,"a":5.45},{"c":"A","e":6,"g":6,"z":1.5,"q":6,"a":5.25},{"c":"A","e":6,"g":6,"z":1.5,"q":5.15,"a":4.65},{"c":"A","e":6,"g":6,"z":1.5,"q":4.1,"a":4.2},{"c":"A","e":6,"g":6,"z":1.5,"q":3.35,"a":4.4},{"c":"A","e":6,"g":6,"z":1.5,"q":3.25,"a":5.05,"s":"1.5"},{"c":"A","e":6,"g":6,"z":1.5,"q":3.2,"a":5.7},{"c":"A","e":6,"g":6,"z":1.5,"q":3.7,"a":6.2},{"c":"A","e":6,"g":6,"z":1.5,"q":4.35,"a":7},{"c":"A","e":6,"g":6,"z":1.5,"q":4.35,"a":8,"k":1},{"c":"A","e":6,"g":6,"z":1.5,"q":8,"a":8,"k":1},{"c":"A","e":6,"g":6,"z":1.5,"q":8,"a":5.45,"k":1},
{"c":"A","e":6,"g":7,"z":2,"q":7,"a":5.85},{"c":"A","e":6,"g":7,"z":2,"q":6.25,"a":6},{"c":"A","e":6,"g":7,"z":2,"q":5.55,"a":6.3},{"c":"A","e":6,"g":7,"z":2,"q":5.35,"a":6.65,"s":"2"},{"c":"A","e":6,"g":7,"z":2,"q":5.2,"a":7},{"c":"A","e":6,"g":7,"z":2,"q":5.2,"a":8,"k":1},{"c":"A","e":6,"g":7,"z":2,"q":8,"a":8,"k":1},{"c":"A","e":6,"g":7,"z":2,"q":8,"a":5.85,"k":1},
{"c":"A","e":6,"g":8,"z":9,"q":3.35,"a":7},{"c":"A","e":6,"g":8,"z":9,"q":2.5,"a":6.5},{"c":"A","e":6,"g":8,"z":9,"q":1.9,"a":5.9},{"c":"A","e":6,"g":8,"z":9,"q":1.75,"a":4.95},{"c":"A","e":6,"g":8,"z":9,"q":2,"a":3.9},{"c":"A","e":6,"g":8,"z":9,"q":2.4,"a":3.3},{"c":"A","e":6,"g":8,"z":9,"q":3.2,"a":3},{"c":"A","e":6,"g":8,"z":9,"q":4.55,"a":2.95},{"c":"A","e":6,"g":8,"z":9,"q":5.4,"a":3.2},{"c":"A","e":6,"g":8,"z":9,"q":6,"a":3.8},{"c":"A","e":6,"g":8,"z":9,"q":7,"a":4.7},{"c":"A","e":6,"g":8,"z":9,"q":8,"a":4.7},{"c":"A","e":6,"g":8,"z":9,"q":8,"a":0},{"c":"A","e":6,"g":8,"z":9,"q":0,"a":0},{"c":"A","e":6,"g":8,"z":9,"q":0,"a":8},{"c":"A","e":6,"g":8,"z":9,"q":3.35,"a":8},

{"c":"S","e":2,"g":1,"z":-2,"q":8,"a":0,"k":1},{"c":"S","e":2,"g":1,"z":-2,"q":8,"a":8,"k":1},{"c":"S","e":2,"g":1,"z":-2,"q":0,"a":8,"k":1},{"c":"S","e":2,"g":1,"z":-2,"q":0,"a":0,"k":1},
{"c":"S","e":2,"g":2,"z":-1.5,"q":1,"a":1.75},{"c":"S","e":2,"g":2,"z":-1.5,"q":1.55,"a":1.45,"s":"−1.5"},{"c":"S","e":2,"g":2,"z":-1.5,"q":2.1,"a":1.1},{"c":"S","e":2,"g":2,"z":-1.5,"q":2.3,"a":1},{"c":"S","e":2,"g":2,"z":-1.5,"q":8,"a":0,"k":1},{"c":"S","e":2,"g":2,"z":-1.5,"q":8,"a":8,"k":1},{"c":"S","e":2,"g":2,"z":-1.5,"q":0,"a":8,"k":1},{"c":"S","e":2,"g":2,"z":-1.5,"q":0,"a":1.75,"k":1},
{"c":"S","e":2,"g":3,"z":-1,"q":1,"a":3.25},{"c":"S","e":2,"g":3,"z":-1,"q":2,"a":3},{"c":"S","e":2,"g":3,"z":-1,"q":2.85,"a":2.7},{"c":"S","e":2,"g":3,"z":-1,"q":4.15,"a":2.15},{"c":"S","e":2,"g":3,"z":-1,"q":5.2,"a":1.9},{"c":"S","e":2,"g":3,"z":-1,"q":5.6,"a":1.5,"s":"−1"},{"c":"S","e":2,"g":3,"z":-1,"q":5.8,"a":1.25},{"c":"S","e":2,"g":3,"z":-1,"q":6,"a":1},{"c":"S","e":2,"g":3,"z":-1,"q":8,"a":0,"k":1},{"c":"S","e":2,"g":3,"z":-1,"q":8,"a":8,"k":1},{"c":"S","e":2,"g":3,"z":-1,"q":0,"a":8,"k":1},{"c":"S","e":2,"g":3,"z":-1,"q":0,"a":3.25,"k":1},
{"c":"S","e":2,"g":4,"z":-0.5,"q":7,"a":4.65},{"c":"S","e":2,"g":4,"z":-0.5,"q":5.9,"a":4.6},{"c":"S","e":2,"g":4,"z":-0.5,"q":5.1,"a":4.5,"s":"−0.5"},{"c":"S","e":2,"g":4,"z":-0.5,"q":4.3,"a":4.4},{"c":"S","e":2,"g":4,"z":-0.5,"q":2.85,"a":4.4},{"c":"S","e":2,"g":4,"z":-0.5,"q":1,"a":4.5},{"c":"S","e":2,"g":4,"z":-0.5,"q":0,"a":4.5,"k":1},{"c":"S","e":2,"g":4,"z":-0.5,"q":0,"a":8,"k":1},{"c":"S","e":2,"g":4,"z":-0.5,"q":8,"a":8,"k":1},{"c":"S","e":2,"g":4,"z":-0.5,"q":8,"a":4.65,"k":1},
{"c":"S","e":2,"g":5,"z":0,"q":7,"a":5.3},{"c":"S","e":2,"g":5,"z":0,"q":5.4,"a":5.25},{"c":"S","e":2,"g":5,"z":0,"q":3.7,"a":5.15},{"c":"S","e":2,"g":5,"z":0,"q":1.85,"a":5.25},{"c":"S","e":2,"g":5,"z":0,"q":1.45,"a":5.3,"s":"0"},{"c":"S","e":2,"g":5,"z":0,"q":1,"a":5.3},{"c":"S","e":2,"g":5,"z":0,"q":0,"a":5.3,"k":1},{"c":"S","e":2,"g":5,"z":0,"q":0,"a":8,"k":1},{"c":"S","e":2,"g":5,"z":0,"q":8,"a":8,"k":1},{"c":"S","e":2,"g":5,"z":0,"q":8,"a":5.3,"k":1},
{"c":"S","e":2,"g":6,"z":0.5,"q":7,"a":5.8},{"c":"S","e":2,"g":6,"z":0.5,"q":5.4,"a":5.9},{"c":"S","e":2,"g":6,"z":0.5,"q":3.7,"a":5.95},{"c":"S","e":2,"g":6,"z":0.5,"q":2.2,"a":6.1},{"c":"S","e":2,"g":6,"z":0.5,"q":1.6,"a":6.15,"s":"0.5"},{"c":"S","e":2,"g":6,"z":0.5,"q":1,"a":6.3},{"c":"S","e":2,"g":6,"z":0.5,"q":0,"a":6.3,"k":1},{"c":"S","e":2,"g":6,"z":0.5,"q":0,"a":8,"k":1},{"c":"S","e":2,"g":6,"z":0.5,"q":8,"a":8,"k":1},{"c":"S","e":2,"g":6,"z":0.5,"q":8,"a":5.8,"k":1},
{"c":"S","e":2,"g":7,"z":1,"q":7,"a":6.35},{"c":"S","e":2,"g":7,"z":1,"q":5.4,"a":6.45},{"c":"S","e":2,"g":7,"z":1,"q":3.7,"a":6.6},{"c":"S","e":2,"g":7,"z":1,"q":2.8,"a":6.8},{"c":"S","e":2,"g":7,"z":1,"q":2.45,"a":6.85,"s":"1"},{"c":"S","e":2,"g":7,"z":1,"q":2.05,"a":7},{"c":"S","e":2,"g":7,"z":1,"q":2.05,"a":8,"k":1},{"c":"S","e":2,"g":7,"z":1,"q":8,"a":8,"k":1},{"c":"S","e":2,"g":7,"z":1,"q":8,"a":6.35,"k":1},
{"c":"S","e":2,"g":8,"z":1.5,"q":7,"a":6.9},{"c":"S","e":2,"g":8,"z":1.5,"q":6.1,"a":7},{"c":"S","e":2,"g":8,"z":1.5,"q":6.1,"a":8,"k":1},{"c":"S","e":2,"g":8,"z":1.5,"q":8,"a":8,"k":1},{"c":"S","e":2,"g":8,"z":1.5,"q":8,"a":6.9,"k":1},
{"c":"S","e":2,"g":9,"z":9,"q":3.75,"a":7},{"c":"S","e":2,"g":9,"z":9,"q":3.8,"a":6.3},{"c":"S","e":2,"g":9,"z":9,"q":4.05,"a":5.9},{"c":"S","e":2,"g":9,"z":9,"q":4.75,"a":5.7},{"c":"S","e":2,"g":9,"z":9,"q":6.25,"a":5.75},{"c":"S","e":2,"g":9,"z":9,"q":7,"a":5.85},{"c":"S","e":2,"g":9,"z":9,"q":8,"a":5.85},{"c":"S","e":2,"g":9,"z":9,"q":8,"a":4.8},{"c":"S","e":2,"g":9,"z":9,"q":7,"a":4.8},{"c":"S","e":2,"g":9,"z":9,"q":5.4,"a":5},{"c":"S","e":2,"g":9,"z":9,"q":3.7,"a":4.85},{"c":"S","e":2,"g":9,"z":9,"q":1.8,"a":4.45},{"c":"S","e":2,"g":9,"z":9,"q":1,"a":4.25},{"c":"S","e":2,"g":9,"z":9,"q":0,"a":4.25},{"c":"S","e":2,"g":9,"z":9,"q":0,"a":8},{"c":"S","e":2,"g":9,"z":9,"q":3.75,"a":8},

{"c":"S","e":4,"g":1,"z":-2,"q":8,"a":0,"k":1},{"c":"S","e":4,"g":1,"z":-2,"q":8,"a":8,"k":1},{"c":"S","e":4,"g":1,"z":-2,"q":0,"a":8,"k":1},{"c":"S","e":4,"g":1,"z":-2,"q":0,"a":0,"k":1},
{"c":"S","e":4,"g":2,"z":-1.5,"q":1,"a":1.6},{"c":"S","e":4,"g":2,"z":-1.5,"q":1.8,"a":1.35},{"c":"S","e":4,"g":2,"z":-1.5,"q":2.3,"a":1},{"c":"S","e":4,"g":2,"z":-1.5,"q":8,"a":0,"k":1},{"c":"S","e":4,"g":2,"z":-1.5,"q":8,"a":8,"k":1},{"c":"S","e":4,"g":2,"z":-1.5,"q":0,"a":8,"k":1},{"c":"S","e":4,"g":2,"z":-1.5,"q":0,"a":1.6,"k":1},
{"c":"S","e":4,"g":3,"z":-1,"q":1,"a":2.25},{"c":"S","e":4,"g":3,"z":-1,"q":2.05,"a":2.1},{"c":"S","e":4,"g":3,"z":-1,"q":2.8,"a":1.8},{"c":"S","e":4,"g":3,"z":-1,"q":3.25,"a":1.4,"s":"−1"},{"c":"S","e":4,"g":3,"z":-1,"q":3.7,"a":1},{"c":"S","e":4,"g":3,"z":-1,"q":8,"a":0,"k":1},{"c":"S","e":4,"g":3,"z":-1,"q":8,"a":8,"k":1},{"c":"S","e":4,"g":3,"z":-1,"q":0,"a":8,"k":1},{"c":"S","e":4,"g":3,"z":-1,"q":0,"a":2.25,"k":1},
{"c":"S","e":4,"g":4,"z":-0.5,"q":7,"a":3.8},{"c":"S","e":4,"g":4,"z":-0.5,"q":5.7,"a":3.7},{"c":"S","e":4,"g":4,"z":-0.5,"q":4.95,"a":3.6,"s":"−0.5"},{"c":"S","e":4,"g":4,"z":-0.5,"q":4.1,"a":3.4},{"c":"S","e":4,"g":4,"z":-0.5,"q":2.8,"a":3.3},{"c":"S","e":4,"g":4,"z":-0.5,"q":1,"a":3.25},{"c":"S","e":4,"g":4,"z":-0.5,"q":0,"a":3.25,"k":1},{"c":"S","e":4,"g":4,"z":-0.5,"q":0,"a":8,"k":1},{"c":"S","e":4,"g":4,"z":-0.5,"q":8,"a":8,"k":1},{"c":"S","e":4,"g":4,"z":-0.5,"q":8,"a":3.8,"k":1},
{"c":"S","e":4,"g":5,"z":-0.5,"q":7,"a":1.85},{"c":"S","e":4,"g":5,"z":-0.5,"q":6.5,"a":1.5,"s":"−0.5"},{"c":"S","e":4,"g":5,"z":-0.5,"q":6.05,"a":1.25},{"c":"S","e":4,"g":5,"z":-0.5,"q":5.4,"a":1},{"c":"S","e":4,"g":5,"z":-0.5,"q":5.4,"a":0,"k":1},{"c":"S","e":4,"g":5,"z":-0.5,"q":8,"a":0,"k":1},{"c":"S","e":4,"g":5,"z":-0.5,"q":8,"a":1.85,"k":1},
{"c":"S","e":4,"g":6,"z":0,"q":7,"a":4.45},{"c":"S","e":4,"g":6,"z":0,"q":5.1,"a":4.4},{"c":"S","e":4,"g":6,"z":0,"q":4.75,"a":4.4,"s":"0"},{"c":"S","e":4,"g":6,"z":0,"q":4.35,"a":4.35},{"c":"S","e":4,"g":6,"z":0,"q":2.8,"a":4.3},{"c":"S","e":4,"g":6,"z":0,"q":1,"a":4.25},{"c":"S","e":4,"g":6,"z":0,"q":0,"a":4.25,"k":1},{"c":"S","e":4,"g":6,"z":0,"q":0,"a":8,"k":1},{"c":"S","e":4,"g":6,"z":0,"q":8,"a":8,"k":1},{"c":"S","e":4,"g":6,"z":0,"q":8,"a":4.45,"k":1},
{"c":"S","e":4,"g":7,"z":0.5,"q":7,"a":5},{"c":"S","e":4,"g":7,"z":0.5,"q":6.3,"a":5},{"c":"S","e":4,"g":7,"z":0.5,"q":5.7,"a":5,"s":"0.5"},{"c":"S","e":4,"g":7,"z":0.5,"q":5.1,"a":5},{"c":"S","e":4,"g":7,"z":0.5,"q":3.25,"a":4.9},{"c":"S","e":4,"g":7,"z":0.5,"q":1,"a":4.9},{"c":"S","e":4,"g":7,"z":0.5,"q":0,"a":4.9,"k":1},{"c":"S","e":4,"g":7,"z":0.5,"q":0,"a":8,"k":1},{"c":"S","e":4,"g":7,"z":0.5,"q":8,"a":8,"k":1},{"c":"S","e":4,"g":7,"z":0.5,"q":8,"a":5,"k":1},
{"c":"S","e":4,"g":8,"z":1,"q":7,"a":5.5},{"c":"S","e":4,"g":8,"z":1,"q":5.05,"a":5.5},{"c":"S","e":4,"g":8,"z":1,"q":4.7,"a":5.5,"s":"1"},{"c":"S","e":4,"g":8,"z":1,"q":4.3,"a":5.5},{"c":"S","e":4,"g":8,"z":1,"q":1,"a":5.45},{"c":"S","e":4,"g":8,"z":1,"q":0,"a":5.45,"k":1},{"c":"S","e":4,"g":8,"z":1,"q":0,"a":8,"k":1},{"c":"S","e":4,"g":8,"z":1,"q":8,"a":8,"k":1},{"c":"S","e":4,"g":8,"z":1,"q":8,"a":5.5,"k":1},
{"c":"S","e":4,"g":9,"z":1.5,"q":7,"a":6.05},{"c":"S","e":4,"g":9,"z":1.5,"q":6.4,"a":6.1},{"c":"S","e":4,"g":9,"z":1.5,"q":5.8,"a":6.1,"s":"1.5"},{"c":"S","e":4,"g":9,"z":1.5,"q":5.25,"a":6.1},{"c":"S","e":4,"g":9,"z":1.5,"q":1,"a":6},{"c":"S","e":4,"g":9,"z":1.5,"q":0,"a":6,"k":1},{"c":"S","e":4,"g":9,"z":1.5,"q":0,"a":8,"k":1},{"c":"S","e":4,"g":9,"z":1.5,"q":8,"a":8,"k":1},{"c":"S","e":4,"g":9,"z":1.5,"q":8,"a":6.05,"k":1},
{"c":"S","e":4,"g":10,"z":2,"q":7,"a":6.65},{"c":"S","e":4,"g":10,"z":2,"q":5.05,"a":6.7},{"c":"S","e":4,"g":10,"z":2,"q":4.7,"a":6.65,"s":"2"},{"c":"S","e":4,"g":10,"z":2,"q":4.35,"a":6.6},{"c":"S","e":4,"g":10,"z":2,"q":1,"a":6.5},{"c":"S","e":4,"g":10,"z":2,"q":0,"a":6.5,"k":1},{"c":"S","e":4,"g":10,"z":2,"q":0,"a":8,"k":1},{"c":"S","e":4,"g":10,"z":2,"q":8,"a":8,"k":1},{"c":"S","e":4,"g":10,"z":2,"q":8,"a":6.65,"k":1},
{"c":"S","e":4,"g":11,"z":9,"q":1,"a":5.3},{"c":"S","e":4,"g":11,"z":9,"q":1.95,"a":4.95},{"c":"S","e":4,"g":11,"z":9,"q":3.85,"a":4.55},{"c":"S","e":4,"g":11,"z":9,"q":5.8,"a":4.65},{"c":"S","e":4,"g":11,"z":9,"q":7,"a":4.75},{"c":"S","e":4,"g":11,"z":9,"q":8,"a":4.75},{"c":"S","e":4,"g":11,"z":9,"q":8,"a":4},{"c":"S","e":4,"g":11,"z":9,"q":7,"a":4},{"c":"S","e":4,"g":11,"z":9,"q":6,"a":4.2},{"c":"S","e":4,"g":11,"z":9,"q":5,"a":4.2},{"c":"S","e":4,"g":11,"z":9,"q":3.7,"a":3.9},{"c":"S","e":4,"g":11,"z":9,"q":2,"a":3.3},{"c":"S","e":4,"g":11,"z":9,"q":1,"a":2.8},{"c":"S","e":4,"g":11,"z":9,"q":0,"a":2.8},{"c":"S","e":4,"g":11,"z":9,"q":0,"a":5.3},
{"c":"S","e":4,"g":12,"z":9,"q":7,"a":1.85},{"c":"S","e":4,"g":12,"z":9,"q":6.05,"a":1.25},{"c":"S","e":4,"g":12,"z":9,"q":5.4,"a":1},{"c":"S","e":4,"g":12,"z":9,"q":5.4,"a":0},{"c":"S","e":4,"g":12,"z":9,"q":8,"a":0},{"c":"S","e":4,"g":12,"z":9,"q":8,"a":1.85},

{"c":"S","e":6,"g":1,"z":0,"q":8,"a":0,"k":1},{"c":"S","e":6,"g":1,"z":0,"q":8,"a":8,"k":1},{"c":"S","e":6,"g":1,"z":0,"q":0,"a":8,"k":1},{"c":"S","e":6,"g":1,"z":0,"q":0,"a":0,"k":1},
{"c":"S","e":6,"g":2,"z":-0.5,"q":1,"a":2.75},{"c":"S","e":6,"g":2,"z":-0.5,"q":2.85,"a":2.6},{"c":"S","e":6,"g":2,"z":-0.5,"q":3.7,"a":2.25},{"c":"S","e":6,"g":2,"z":-0.5,"q":3.95,"a":1.8},{"c":"S","e":6,"g":2,"z":-0.5,"q":4,"a":1.4,"s":"0"},{"c":"S","e":6,"g":2,"z":-0.5,"q":4,"a":1},{"c":"S","e":6,"g":2,"z":-0.5,"q":4,"a":0,"k":1},{"c":"S","e":6,"g":2,"z":-0.5,"q":0,"a":0,"k":1},{"c":"S","e":6,"g":2,"z":-0.5,"q":0,"a":2.75,"k":1},
{"c":"S","e":6,"g":3,"z":-1,"q":3.45,"a":1},{"c":"S","e":6,"g":3,"z":-1,"q":2.95,"a":1.65},{"c":"S","e":6,"g":3,"z":-1,"q":2,"a":2.1},{"c":"S","e":6,"g":3,"z":-1,"q":1,"a":2.3},{"c":"S","e":6,"g":3,"z":-1,"q":0,"a":2.3,"k":1},{"c":"S","e":6,"g":3,"z":-1,"q":0,"a":0,"k":1},{"c":"S","e":6,"g":3,"z":-1,"q":3.45,"a":0,"k":1},
{"c":"S","e":6,"g":4,"z":-1.5,"q":1,"a":1.9},{"c":"S","e":6,"g":4,"z":-1.5,"q":1.9,"a":1.7},{"c":"S","e":6,"g":4,"z":-1.5,"q":2.3,"a":1.4,"s":"−1"},{"c":"S","e":6,"g":4,"z":-1.5,"q":2.85,"a":1},{"c":"S","e":6,"g":4,"z":-1.5,"q":2.85,"a":0,"k":1},{"c":"S","e":6,"g":4,"z":-1.5,"q":0,"a":0,"k":1},{"c":"S","e":6,"g":4,"z":-1.5,"q":0,"a":1.9,"k":1},
{"c":"S","e":6,"g":5,"z":-2,"q":2.2,"a":1},{"c":"S","e":6,"g":5,"z":-2,"q":1.65,"a":1.35},{"c":"S","e":6,"g":5,"z":-2,"q":1,"a":1.65},{"c":"S","e":6,"g":5,"z":-2,"q":0,"a":1.65,"k":1},{"c":"S","e":6,"g":5,"z":-2,"q":0,"a":0,"k":1},{"c":"S","e":6,"g":5,"z":-2,"q":2.2,"a":0,"k":1},
{"c":"S","e":6,"g":6,"z":2,"q":1.65,"a":1},{"c":"S","e":6,"g":6,"z":2,"q":1,"a":1.3},{"c":"S","e":6,"g":6,"z":2,"q":0,"a":1.3,"k":1},{"c":"S","e":6,"g":6,"z":2,"q":0,"a":0,"k":1},{"c":"S","e":6,"g":6,"z":2,"q":1.65,"a":0,"k":1},
{"c":"S","e":6,"g":7,"z":-0.5,"q":7,"a":3.75},{"c":"S","e":6,"g":7,"z":-0.5,"q":6.5,"a":3.55,"s":"0"},{"c":"S","e":6,"g":7,"z":-0.5,"q":6.2,"a":3.4},{"c":"S","e":6,"g":7,"z":-0.5,"q":7,"a":3.25},{"c":"S","e":6,"g":7,"z":-0.5,"q":8,"a":3.25,"k":1},{"c":"S","e":6,"g":7,"z":-0.5,"q":8,"a":3.75,"k":1},
{"c":"S","e":6,"g":8,"z":0.5,"q":7,"a":4.7},{"c":"S","e":6,"g":8,"z":0.5,"q":6,"a":4.65},{"c":"S","e":6,"g":8,"z":0.5,"q":5,"a":4.45},{"c":"S","e":6,"g":8,"z":0.5,"q":4.4,"a":4.2,"s":"0.5"},{"c":"S","e":6,"g":8,"z":0.5,"q":3.85,"a":4.05},{"c":"S","e":6,"g":8,"z":0.5,"q":2.4,"a":3.6},{"c":"S","e":6,"g":8,"z":0.5,"q":1,"a":3.4},{"c":"S","e":6,"g":8,"z":0.5,"q":0,"a":3.4,"k":1},{"c":"S","e":6,"g":8,"z":0.5,"q":0,"a":8,"k":1},{"c":"S","e":6,"g":8,"z":0.5,"q":8,"a":8,"k":1},{"c":"S","e":6,"g":8,"z":0.5,"q":8,"a":4.7,"k":1},
{"c":"S","e":6,"g":9,"z":1,"q":7,"a":5.25},{"c":"S","e":6,"g":9,"z":1,"q":5.85,"a":5.25},{"c":"S","e":6,"g":9,"z":1,"q":4.55,"a":5},{"c":"S","e":6,"g":9,"z":1,"q":4.2,"a":4.9,"s":"1"},{"c":"S","e":6,"g":9,"z":1,"q":3.8,"a":4.75},{"c":"S","e":6,"g":9,"z":1,"q":2.4,"a":4.45},{"c":"S","e":6,"g":9,"z":1,"q":1,"a":4.15},{"c":"S","e":6,"g":9,"z":1,"q":0,"a":4.15,"k":1},{"c":"S","e":6,"g":9,"z":1,"q":0,"a":8,"k":1},{"c":"S","e":6,"g":9,"z":1,"q":8,"a":8,"k":1},{"c":"S","e":6,"g":9,"z":1,"q":8,"a":5.25,"k":1},
{"c":"S","e":6,"g":10,"z":1.5,"q":7,"a":5.8},{"c":"S","e":6,"g":10,"z":1.5,"q":5.4,"a":5.8},{"c":"S","e":6,"g":10,"z":1.5,"q":3.75,"a":5.4},{"c":"S","e":6,"g":10,"z":1.5,"q":3.15,"a":5.3,"s":"1.5"},{"c":"S","e":6,"g":10,"z":1.5,"q":2.55,"a":5.15},{"c":"S","e":6,"g":10,"z":1.5,"q":1,"a":4.9},{"c":"S","e":6,"g":10,"z":1.5,"q":0,"a":4.9,"k":1},{"c":"S","e":6,"g":10,"z":1.5,"q":0,"a":8,"k":1},{"c":"S","e":6,"g":10,"z":1.5,"q":8,"a":8,"k":1},{"c":"S","e":6,"g":10,"z":1.5,"q":8,"a":5.8,"k":1},
{"c":"S","e":6,"g":11,"z":2,"q":7,"a":6.2},{"c":"S","e":6,"g":11,"z":2,"q":5.85,"a":6.25},{"c":"S","e":6,"g":11,"z":2,"q":4.75,"a":6.15},{"c":"S","e":6,"g":11,"z":2,"q":4.4,"a":6.1,"s":"2"},{"c":"S","e":6,"g":11,"z":2,"q":4,"a":6.05},{"c":"S","e":6,"g":11,"z":2,"q":1,"a":5.55},{"c":"S","e":6,"g":11,"z":2,"q":0,"a":5.55,"k":1},{"c":"S","e":6,"g":11,"z":2,"q":0,"a":8,"k":1},{"c":"S","e":6,"g":11,"z":2,"q":8,"a":8,"k":1},{"c":"S","e":6,"g":11,"z":2,"q":8,"a":6.2,"k":1},
{"c":"S","e":6,"g":12,"z":0.5,"q":7,"a":2.4},{"c":"S","e":6,"g":12,"z":0.5,"q":6.25,"a":2.25},{"c":"S","e":6,"g":12,"z":0.5,"q":5.45,"a":1.95},{"c":"S","e":6,"g":12,"z":0.5,"q":5.05,"a":1.45,"s":"0.5"},{"c":"S","e":6,"g":12,"z":0.5,"q":5.2,"a":1},{"c":"S","e":6,"g":12,"z":0.5,"q":5.2,"a":0,"k":1},{"c":"S","e":6,"g":12,"z":0.5,"q":8,"a":0,"k":1},{"c":"S","e":6,"g":12,"z":0.5,"q":8,"a":2.4,"k":1},
{"c":"S","e":6,"g":13,"z":1,"q":7,"a":1.85},{"c":"S","e":6,"g":13,"z":1,"q":6.5,"a":1.8},{"c":"S","e":6,"g":13,"z":1,"q":6.15,"a":1.65,"s":"1"},{"c":"S","e":6,"g":13,"z":1,"q":5.8,"a":1.5},{"c":"S","e":6,"g":13,"z":1,"q":5.4,"a":1},{"c":"S","e":6,"g":13,"z":1,"q":5.4,"a":0,"k":1},{"c":"S","e":6,"g":13,"z":1,"q":8,"a":0,"k":1},{"c":"S","e":6,"g":13,"z":1,"q":8,"a":1.85,"k":1},
{"c":"S","e":6,"g":14,"z":1.5,"q":7,"a":1.6},{"c":"S","e":6,"g":14,"z":1.5,"q":6.3,"a":1.35},{"c":"S","e":6,"g":14,"z":1.5,"q":5.85,"a":1},{"c":"S","e":6,"g":14,"z":1.5,"q":5.85,"a":0,"k":1},{"c":"S","e":6,"g":14,"z":1.5,"q":8,"a":0,"k":1},{"c":"S","e":6,"g":14,"z":1.5,"q":8,"a":1.6,"k":1},
{"c":"S","e":6,"g":15,"z":2,"q":7,"a":1.25},{"c":"S","e":6,"g":15,"z":2,"q":6.7,"a":1.1},{"c":"S","e":6,"g":15,"z":2,"q":6.5,"a":1},{"c":"S","e":6,"g":15,"z":2,"q":6.5,"a":0,"k":1},{"c":"S","e":6,"g":15,"z":2,"q":8,"a":0,"k":1},{"c":"S","e":6,"g":15,"z":2,"q":8,"a":1.25,"k":1},
{"c":"S","e":6,"g":16,"z":9,"q":1,"a":4.75},{"c":"S","e":6,"g":16,"z":9,"q":2.4,"a":4.3},{"c":"S","e":6,"g":16,"z":9,"q":4,"a":4.1},{"c":"S","e":6,"g":16,"z":9,"q":4.75,"a":4.15},{"c":"S","e":6,"g":16,"z":9,"q":5.4,"a":4.4},{"c":"S","e":6,"g":16,"z":9,"q":6.25,"a":4.65},{"c":"S","e":6,"g":16,"z":9,"q":7,"a":4.7},{"c":"S","e":6,"g":16,"z":9,"q":8,"a":4.7},{"c":"S","e":6,"g":16,"z":9,"q":8,"a":1.9},{"c":"S","e":6,"g":16,"z":9,"q":7,"a":1.9},{"c":"S","e":6,"g":16,"z":9,"q":6.35,"a":1.9},{"c":"S","e":6,"g":16,"z":9,"q":5.75,"a":1.8},{"c":"S","e":6,"g":16,"z":9,"q":5.5,"a":1.5},{"c":"S","e":6,"g":16,"z":9,"q":5.3,"a":1},{"c":"S","e":6,"g":16,"z":9,"q":5.3,"a":0},{"c":"S","e":6,"g":16,"z":9,"q":0,"a":0},{"c":"S","e":6,"g":16,"z":9,"q":0,"a":4.75},

{"c":"E","e":2,"g":1,"z":-2,"q":7,"a":1.65},{"c":"E","e":2,"g":1,"z":-2,"q":5.75,"a":1.3},{"c":"E","e":2,"g":1,"z":-2,"q":5.4,"a":1.2,"s":"−2"},{"c":"E","e":2,"g":1,"z":-2,"q":5.05,"a":1.15},{"c":"E","e":2,"g":1,"z":-2,"q":4.7,"a":1},{"c":"E","e":2,"g":1,"z":-2,"q":4.7,"a":0,"k":1},{"c":"E","e":2,"g":1,"z":-2,"q":0,"a":0,"k":1},{"c":"E","e":2,"g":1,"z":-2,"q":0,"a":8,"k":1},{"c":"E","e":2,"g":1,"z":-2,"q":8,"a":8,"k":1},{"c":"E","e":2,"g":1,"z":-2,"q":8,"a":1.65,"k":1},
{"c":"E","e":2,"g":2,"z":-1.5,"q":7,"a":3},{"c":"E","e":2,"g":2,"z":-1.5,"q":6.15,"a":2.85},{"c":"E","e":2,"g":2,"z":-1.5,"q":5.4,"a":2.65,"s":"−1.5"},{"c":"E","e":2,"g":2,"z":-1.5,"q":4.65,"a":2.45},{"c":"E","e":2,"g":2,"z":-1.5,"q":3.7,"a":2.25},{"c":"E","e":2,"g":2,"z":-1.5,"q":2.7,"a":2.25},{"c":"E","e":2,"g":2,"z":-1.5,"q":1,"a":2.45},{"c":"E","e":2,"g":2,"z":-1.5,"q":0,"a":2.45,"k":1},{"c":"E","e":2,"g":2,"z":-1.5,"q":0,"a":8,"k":1},{"c":"E","e":2,"g":2,"z":-1.5,"q":8,"a":8,"k":1},{"c":"E","e":2,"g":2,"z":-1.5,"q":8,"a":3,"k":1},
{"c":"E","e":2,"g":3,"z":-1,"q":7,"a":3.9},{"c":"E","e":2,"g":3,"z":-1,"q":5.4,"a":3.85},{"c":"E","e":2,"g":3,"z":-1,"q":3.7,"a":3.7},{"c":"E","e":2,"g":3,"z":-1,"q":2.6,"a":3.75},{"c":"E","e":2,"g":3,"z":-1,"q":1.75,"a":4.05},{"c":"E","e":2,"g":3,"z":-1,"q":1.35,"a":4.5,"s":"−1"},{"c":"E","e":2,"g":3,"z":-1,"q":1,"a":4.9},{"c":"E","e":2,"g":3,"z":-1,"q":0,"a":4.9,"k":1},{"c":"E","e":2,"g":3,"z":-1,"q":0,"a":8,"k":1},{"c":"E","e":2,"g":3,"z":-1,"q":8,"a":8,"k":1},{"c":"E","e":2,"g":3,"z":-1,"q":8,"a":3.9,"k":1},
{"c":"E","e":2,"g":4,"z":-0.5,"q":7,"a":4.45},{"c":"E","e":2,"g":4,"z":-0.5,"q":5.4,"a":4.5},{"c":"E","e":2,"g":4,"z":-0.5,"q":4.1,"a":4.65},{"c":"E","e":2,"g":4,"z":-0.5,"q":3.2,"a":4.95},{"c":"E","e":2,"g":4,"z":-0.5,"q":2.5,"a":5.4,"s":"−0.5"},{"c":"E","e":2,"g":4,"z":-0.5,"q":1.85,"a":5.7},{"c":"E","e":2,"g":4,"z":-0.5,"q":1,"a":6.1},{"c":"E","e":2,"g":4,"z":-0.5,"q":0,"a":6.1,"k":1},{"c":"E","e":2,"g":4,"z":-0.5,"q":0,"a":8,"k":1},{"c":"E","e":2,"g":4,"z":-0.5,"q":8,"a":8,"k":1},{"c":"E","e":2,"g":4,"z":-0.5,"q":8,"a":4.45,"k":1},
{"c":"E","e":2,"g":5,"z":0,"q":7,"a":4.8},{"c":"E","e":2,"g":5,"z":0,"q":5.85,"a":4.9},{"c":"E","e":2,"g":5,"z":0,"q":4.55,"a":5.25},{"c":"E","e":2,"g":5,"z":0,"q":3.7,"a":5.6},{"c":"E","e":2,"g":5,"z":0,"q":3.4,"a":5.75,"s":"0"},{"c":"E","e":2,"g":5,"z":0,"q":3,"a":5.9},{"c":"E","e":2,"g":5,"z":0,"q":2.05,"a":6.5},{"c":"E","e":2,"g":5,"z":0,"q":1,"a":6.85},{"c":"E","e":2,"g":5,"z":0,"q":0,"a":6.85,"k":1},{"c":"E","e":2,"g":5,"z":0,"q":0,"a":8,"k":1},{"c":"E","e":2,"g":5,"z":0,"q":8,"a":8,"k":1},{"c":"E","e":2,"g":5,"z":0,"q":8,"a":4.8,"k":1},
{"c":"E","e":2,"g":6,"z":0.5,"q":7,"a":5.2},{"c":"E","e":2,"g":6,"z":0.5,"q":5.85,"a":5.4},{"c":"E","e":2,"g":6,"z":0.5,"q":4.85,"a":5.8},{"c":"E","e":2,"g":6,"z":0.5,"q":4.35,"a":6.05,"s":"0.5"},{"c":"E","e":2,"g":6,"z":0.5,"q":3.8,"a":6.3},{"c":"E","e":2,"g":6,"z":0.5,"q":2.05,"a":7},{"c":"E","e":2,"g":6,"z":0.5,"q":2.05,"a":8,"k":1},{"c":"E","e":2,"g":6,"z":0.5,"q":8,"a":8,"k":1},{"c":"E","e":2,"g":6,"z":0.5,"q":8,"a":5.2,"k":1},
{"c":"E","e":2,"g":7,"z":1,"q":7,"a":5.6},{"c":"E","e":2,"g":7,"z":1,"q":5.45,"a":6.25},{"c":"E","e":2,"g":7,"z":1,"q":5.1,"a":6.45,"s":"1"},{"c":"E","e":2,"g":7,"z":1,"q":4.75,"a":6.65},{"c":"E","e":2,"g":7,"z":1,"q":4,"a":7},{"c":"E","e":2,"g":7,"z":1,"q":4,"a":8,"k":1},{"c":"E","e":2,"g":7,"z":1,"q":8,"a":8,"k":1},{"c":"E","e":2,"g":7,"z":1,"q":8,"a":5.6,"k":1},
{"c":"E","e":2,"g":8,"z":1.5,"q":7,"a":6.25},{"c":"E","e":2,"g":8,"z":1.5,"q":6.45,"a":6.6,"s":"1.5"},{"c":"E","e":2,"g":8,"z":1.5,"q":5.9,"a":6.9},{"c":"E","e":2,"g":8,"z":1.5,"q":5.65,"a":7},{"c":"E","e":2,"g":8,"z":1.5,"q":5.65,"a":8,"k":1},{"c":"E","e":2,"g":8,"z":1.5,"q":8,"a":8,"k":1},{"c":"E","e":2,"g":8,"z":1.5,"q":8,"a":6.25,"k":1},
{"c":"E","e":2,"g":9,"z":9,"q":4.3,"a":7},{"c":"E","e":2,"g":9,"z":9,"q":4.25,"a":6.1},{"c":"E","e":2,"g":9,"z":9,"q":4.55,"a":5.6},{"c":"E","e":2,"g":9,"z":9,"q":5.4,"a":5.2},{"c":"E","e":2,"g":9,"z":9,"q":7,"a":5.1},{"c":"E","e":2,"g":9,"z":9,"q":8,"a":5.1},{"c":"E","e":2,"g":9,"z":9,"q":8,"a":4.5},{"c":"E","e":2,"g":9,"z":9,"q":7,"a":4.5},{"c":"E","e":2,"g":9,"z":9,"q":5.85,"a":4.8},{"c":"E","e":2,"g":9,"z":9,"q":4.55,"a":5},{"c":"E","e":2,"g":9,"z":9,"q":2.85,"a":5.15},{"c":"E","e":2,"g":9,"z":9,"q":1,"a":5.15},{"c":"E","e":2,"g":9,"z":9,"q":0,"a":5.15},{"c":"E","e":2,"g":9,"z":9,"q":0,"a":8},{"c":"E","e":2,"g":9,"z":9,"q":4.3,"a":8},

{"c":"E","e":4,"g":1,"z":-2,"q":1,"a":1.8},{"c":"E","e":4,"g":1,"z":-2,"q":2.25,"a":1.7},{"c":"E","e":4,"g":1,"z":-2,"q":3.2,"a":1.4,"s":"−2"},{"c":"E","e":4,"g":1,"z":-2,"q":4.05,"a":1},{"c":"E","e":4,"g":1,"z":-2,"q":8,"a":0,"k":1},{"c":"E","e":4,"g":1,"z":-2,"q":8,"a":8,"k":1},{"c":"E","e":4,"g":1,"z":-2,"q":0,"a":8,"k":1},{"c":"E","e":4,"g":1,"z":-2,"q":0,"a":1.8,"k":1},
{"c":"E","e":4,"g":2,"z":-1.5,"q":1,"a":2.15},{"c":"E","e":4,"g":2,"z":-1.5,"q":1.6,"a":2.1},{"c":"E","e":4,"g":2,"z":-1.5,"q":2.35,"a":2.05,"s":"−1.5"},{"c":"E","e":4,"g":2,"z":-1.5,"q":3.1,"a":2},{"c":"E","e":4,"g":2,"z":-1.5,"q":4.35,"a":1.8},{"c":"E","e":4,"g":2,"z":-1.5,"q":4.9,"a":1.5},{"c":"E","e":4,"g":2,"z":-1.5,"q":5.1,"a":1},{"c":"E","e":4,"g":2,"z":-1.5,"q":8,"a":0,"k":1},{"c":"E","e":4,"g":2,"z":-1.5,"q":8,"a":8,"k":1},{"c":"E","e":4,"g":2,"z":-1.5,"q":0,"a":8,"k":1},{"c":"E","e":4,"g":2,"z":-1.5,"q":0,"a":2.15,"k":1},
{"c":"E","e":4,"g":3,"z":-1,"q":1,"a":2.5},{"c":"E","e":4,"g":3,"z":-1,"q":2.8,"a":2.5},{"c":"E","e":4,"g":3,"z":-1,"q":4.1,"a":2.65},{"c":"E","e":4,"g":3,"z":-1,"q":5.05,"a":3.1},{"c":"E","e":4,"g":3,"z":-1,"q":5.5,"a":3.4,"s":"−1"},{"c":"E","e":4,"g":3,"z":-1,"q":6,"a":3.75},{"c":"E","e":4,"g":3,"z":-1,"q":7,"a":4.2},{"c":"E","e":4,"g":3,"z":-1,"q":8,"a":4.2,"k":1},{"c":"E","e":4,"g":3,"z":-1,"q":8,"a":8,"k":1},{"c":"E","e":4,"g":3,"z":-1,"q":0,"a":8,"k":1},{"c":"E","e":4,"g":3,"z":-1,"q":0,"a":2.5,"k":1},
{"c":"E","e":4,"g":4,"z":-1,"q":7,"a":1.7},{"c":"E","e":4,"g":4,"z":-1,"q":6.6,"a":1.5,"s":"−1"},{"c":"E","e":4,"g":4,"z":-1,"q":6.25,"a":1},{"c":"E","e":4,"g":4,"z":-1,"q":6.25,"a":0,"k":1},{"c":"E","e":4,"g":4,"z":-1,"q":8,"a":0,"k":1},{"c":"E","e":4,"g":4,"z":-1,"q":8,"a":1.7,"k":1},
{"c":"E","e":4,"g":5,"z":-2,"q":7,"a":3.5},{"c":"E","e":4,"g":5,"z":-2,"q":6.85,"a":3.1},{"c":"E","e":4,"g":5,"z":-2,"q":7,"a":2.8},{"c":"E","e":4,"g":5,"z":-2,"q":8,"a":2.8,"k":1},{"c":"E","e":4,"g":5,"z":-2,"q":8,"a":3.5,"k":1},
{"c":"E","e":4,"g":6,"z":-0.5,"q":1,"a":3},{"c":"E","e":4,"g":6,"z":-0.5,"q":2.8,"a":3.15},{"c":"E","e":4,"g":6,"z":-0.5,"q":3.8,"a":3.35},{"c":"E","e":4,"g":6,"z":-0.5,"q":4.6,"a":3.75,"s":"−0.5"},{"c":"E","e":4,"g":6,"z":-0.5,"q":5.25,"a":4.1},{"c":"E","e":4,"g":6,"z":-0.5,"q":6.25,"a":4.4},{"c":"E","e":4,"g":6,"z":-0.5,"q":7,"a":4.5},{"c":"E","e":4,"g":6,"z":-0.5,"q":8,"a":4.5,"k":1},{"c":"E","e":4,"g":6,"z":-0.5,"q":8,"a":8,"k":1},{"c":"E","e":4,"g":6,"z":-0.5,"q":0,"a":8,"k":1},{"c":"E","e":4,"g":6,"z":-0.5,"q":0,"a":3,"k":1},
{"c":"E","e":4,"g":7,"z":0,"q":1,"a":3.3},{"c":"E","e":4,"g":7,"z":0,"q":3.35,"a":3.85},{"c":"E","e":4,"g":7,"z":0,"q":3.7,"a":4,"s":"0"},{"c":"E","e":4,"g":7,"z":0,"q":4.05,"a":4.1},{"c":"E","e":4,"g":7,"z":0,"q":4.8,"a":4.45},{"c":"E","e":4,"g":7,"z":0,"q":6,"a":4.75},{"c":"E","e":4,"g":7,"z":0,"q":7,"a":4.85},{"c":"E","e":4,"g":7,"z":0,"q":8,"a":4.85,"k":1},{"c":"E","e":4,"g":7,"z":0,"q":8,"a":8,"k":1},{"c":"E","e":4,"g":7,"z":0,"q":0,"a":8,"k":1},{"c":"E","e":4,"g":7,"z":0,"q":0,"a":3.3,"k":1},
{"c":"E","e":4,"g":8,"z":0.5,"q":2.6,"a":7},{"c":"E","e":4,"g":8,"z":0.5,"q":2.25,"a":6.6,"s":"0.5"},{"c":"E","e":4,"g":8,"z":0.5,"q":1.7,"a":6.1},{"c":"E","e":4,"g":8,"z":0.5,"q":1,"a":5.65},{"c":"E","e":4,"g":8,"z":0.5,"q":0,"a":5.65,"k":1},{"c":"E","e":4,"g":8,"z":0.5,"q":0,"a":4,"k":1},{"c":"E","e":4,"g":8,"z":0.5,"q":1,"a":4},{"c":"E","e":4,"g":8,"z":0.5,"q":1.65,"a":4.2,"s":"0.5"},{"c":"E","e":4,"g":8,"z":0.5,"q":2.2,"a":4.45},{"c":"E","e":4,"g":8,"z":0.5,"q":4.8,"a":4.85},{"c":"E","e":4,"g":8,"z":0.5,"q":7,"a":5.15},{"c":"E","e":4,"g":8,"z":0.5,"q":8,"a":5.15,"k":1},{"c":"E","e":4,"g":8,"z":0.5,"q":8,"a":8,"k":1},{"c":"E","e":4,"g":8,"z":0.5,"q":2.6,"a":8,"k":1},
{"c":"E","e":4,"g":9,"z":1,"q":7,"a":5.45},{"c":"E","e":4,"g":9,"z":1,"q":5.4,"a":5.5},{"c":"E","e":4,"g":9,"z":1,"q":4.55,"a":5.55},{"c":"E","e":4,"g":9,"z":1,"q":3.95,"a":5.9},{"c":"E","e":4,"g":9,"z":1,"q":3.85,"a":6.3,"s":"1"},{"c":"E","e":4,"g":9,"z":1,"q":3.9,"a":7},{"c":"E","e":4,"g":9,"z":1,"q":3.9,"a":8,"k":1},{"c":"E","e":4,"g":9,"z":1,"q":8,"a":8,"k":1},{"c":"E","e":4,"g":9,"z":1,"q":8,"a":5.45,"k":1},
{"c":"E","e":4,"g":10,"z":1.5,"q":7,"a":6},{"c":"E","e":4,"g":10,"z":1.5,"q":5.9,"a":6.1},{"c":"E","e":4,"g":10,"z":1.5,"q":5.4,"a":6.4,"s":"1.5"},{"c":"E","e":4,"g":10,"z":1.5,"q":5.15,"a":6.7},{"c":"E","e":4,"g":10,"z":1.5,"q":5,"a":7},{"c":"E","e":4,"g":10,"z":1.5,"q":5,"a":8,"k":1},{"c":"E","e":4,"g":10,"z":1.5,"q":8,"a":8,"k":1},{"c":"E","e":4,"g":10,"z":1.5,"q":8,"a":6,"k":1},
{"c":"E","e":4,"g":11,"z":2,"q":7,"a":6.4},{"c":"E","e":4,"g":11,"z":2,"q":6.7,"a":6.5},{"c":"E","e":4,"g":11,"z":2,"q":6.35,"a":6.7,"s":"2"},{"c":"E","e":4,"g":11,"z":2,"q":6.1,"a":7},{"c":"E","e":4,"g":11,"z":2,"q":6.1,"a":8,"k":1},{"c":"E","e":4,"g":11,"z":2,"q":8,"a":8,"k":1},{"c":"E","e":4,"g":11,"z":2,"q":8,"a":6.4,"k":1},
{"c":"E","e":4,"g":12,"z":9,"q":3.65,"a":7},{"c":"E","e":4,"g":12,"z":9,"q":2.65,"a":6.2},{"c":"E","e":4,"g":12,"z":9,"q":2.2,"a":5.1},{"c":"E","e":4,"g":12,"z":9,"q":2.55,"a":4.6},{"c":"E","e":4,"g":12,"z":9,"q":3.7,"a":4.45},{"c":"E","e":4,"g":12,"z":9,"q":5.4,"a":4.8},{"c":"E","e":4,"g":12,"z":9,"q":7,"a":5},{"c":"E","e":4,"g":12,"z":9,"q":8,"a":5},{"c":"E","e":4,"g":12,"z":9,"q":8,"a":4.55},{"c":"E","e":4,"g":12,"z":9,"q":7,"a":4.55},{"c":"E","e":4,"g":12,"z":9,"q":6.25,"a":4.5},{"c":"E","e":4,"g":12,"z":9,"q":4.8,"a":4.3},{"c":"E","e":4,"g":12,"z":9,"q":4.2,"a":3.85},{"c":"E","e":4,"g":12,"z":9,"q":3.4,"a":3.4},{"c":"E","e":4,"g":12,"z":9,"q":1.95,"a":2.95},{"c":"E","e":4,"g":12,"z":9,"q":1,"a":2.55},{"c":"E","e":4,"g":12,"z":9,"q":0,"a":2.55},{"c":"E","e":4,"g":12,"z":9,"q":0,"a":8},{"c":"E","e":4,"g":12,"z":9,"q":3.65,"a":8},
{"c":"E","e":4,"g":13,"z":9,"q":7,"a":1.7},{"c":"E","e":4,"g":13,"z":9,"q":6.6,"a":1.5},{"c":"E","e":4,"g":13,"z":9,"q":6.25,"a":1},{"c":"E","e":4,"g":13,"z":9,"q":6.25,"a":0},{"c":"E","e":4,"g":13,"z":9,"q":8,"a":0},{"c":"E","e":4,"g":13,"z":9,"q":8,"a":1.7},

{"c":"E","e":6,"g":1,"z":-0.5,"q":8,"a":0,"k":1},{"c":"E","e":6,"g":1,"z":-0.5,"q":8,"a":8,"k":1},{"c":"E","e":6,"g":1,"z":-0.5,"q":0,"a":8,"k":1},{"c":"E","e":6,"g":1,"z":-0.5,"q":0,"a":0,"k":1},
{"c":"E","e":6,"g":2,"z":-1,"q":7,"a":4},{"c":"E","e":6,"g":2,"z":-1,"q":6.4,"a":3.65},{"c":"E","e":6,"g":2,"z":-1,"q":6.15,"a":3.4},{"c":"E","e":6,"g":2,"z":-1,"q":6.4,"a":3.25},{"c":"E","e":6,"g":2,"z":-1,"q":7,"a":3.25},{"c":"E","e":6,"g":2,"z":-1,"q":8,"a":3.25,"k":1},{"c":"E","e":6,"g":2,"z":-1,"q":8,"a":4,"k":1},
{"c":"E","e":6,"g":3,"z":-1,"q":1,"a":3.3},{"c":"E","e":6,"g":3,"z":-1,"q":2.7,"a":3.3},{"c":"E","e":6,"g":3,"z":-1,"q":3.95,"a":3.2},{"c":"E","e":6,"g":3,"z":-1,"q":4.6,"a":2.95,"s":"−0.5"},{"c":"E","e":6,"g":3,"z":-1,"q":5.45,"a":2.65},{"c":"E","e":6,"g":3,"z":-1,"q":5.2,"a":1.9},{"c":"E","e":6,"g":3,"z":-1,"q":5.1,"a":1},{"c":"E","e":6,"g":3,"z":-1,"q":5.1,"a":0,"k":1},{"c":"E","e":6,"g":3,"z":-1,"q":0,"a":0,"k":1},{"c":"E","e":6,"g":3,"z":-1,"q":0,"a":3.3,"k":1},
{"c":"E","e":6,"g":4,"z":-1.5,"q":1,"a":3.05},{"c":"E","e":6,"g":4,"z":-1.5,"q":2.25,"a":3},{"c":"E","e":6,"g":4,"z":-1.5,"q":3.55,"a":2.75},{"c":"E","e":6,"g":4,"z":-1.5,"q":4.3,"a":2.45},{"c":"E","e":6,"g":4,"z":-1.5,"q":4.45,"a":2,"s":"−1"},{"c":"E","e":6,"g":4,"z":-1.5,"q":4.8,"a":1},{"c":"E","e":6,"g":4,"z":-1.5,"q":4.8,"a":0,"k":1},{"c":"E","e":6,"g":4,"z":-1.5,"q":0,"a":0,"k":1},{"c":"E","e":6,"g":4,"z":-1.5,"q":0,"a":3.05,"k":1},
{"c":"E","e":6,"g":5,"z":-2,"q":1,"a":2.85},{"c":"E","e":6,"g":5,"z":-2,"q":2.1,"a":2.7},{"c":"E","e":6,"g":5,"z":-2,"q":2.75,"a":2.6,"s":"−1.5"},{"c":"E","e":6,"g":5,"z":-2,"q":3.65,"a":2.3},{"c":"E","e":6,"g":5,"z":-2,"q":4.15,"a":1.9},{"c":"E","e":6,"g":5,"z":-2,"q":4.55,"a":1},{"c":"E","e":6,"g":5,"z":-2,"q":4.55,"a":0,"k":1},{"c":"E","e":6,"g":5,"z":-2,"q":0,"a":0,"k":1},{"c":"E","e":6,"g":5,"z":-2,"q":0,"a":2.85,"k":1},
{"c":"E","e":6,"g":6,"z":2,"q":1,"a":2.7},{"c":"E","e":6,"g":6,"z":2,"q":2.25,"a":2.5},{"c":"E","e":6,"g":6,"z":2,"q":3.3,"a":2.05},{"c":"E","e":6,"g":6,"z":2,"q":3.8,"a":1.5,"s":"−2"},{"c":"E","e":6,"g":6,"z":2,"q":4.25,"a":1},{"c":"E","e":6,"g":6,"z":2,"q":4.25,"a":0,"k":1},{"c":"E","e":6,"g":6,"z":2,"q":0,"a":0,"k":1},{"c":"E","e":6,"g":6,"z":2,"q":0,"a":2.7,"k":1},
{"c":"E","e":6,"g":7,"z":0,"q":1,"a":3.6},{"c":"E","e":6,"g":7,"z":0,"q":3.1,"a":3.65},{"c":"E","e":6,"g":7,"z":0,"q":4.9,"a":4},{"c":"E","e":6,"g":7,"z":0,"q":5.3,"a":4.05,"s":"0"},{"c":"E","e":6,"g":7,"z":0,"q":5.7,"a":4.2},{"c":"E","e":6,"g":7,"z":0,"q":7,"a":4.45},{"c":"E","e":6,"g":7,"z":0,"q":8,"a":4.45,"k":1},{"c":"E","e":6,"g":7,"z":0,"q":8,"a":8,"k":1},{"c":"E","e":6,"g":7,"z":0,"q":2.75,"a":8,"k":1},{"c":"E","e":6,"g":7,"z":0,"q":2.75,"a":7},{"c":"E","e":6,"g":7,"z":0,"q":2.4,"a":6.85,"s":"0"},{"c":"E","e":6,"g":7,"z":0,"q":2.1,"a":6.7},{"c":"E","e":6,"g":7,"z":0,"q":1,"a":6.25},{"c":"E","e":6,"g":7,"z":0,"q":0,"a":6.25,"k":1},{"c":"E","e":6,"g":7,"z":0,"q":0,"a":3.6,"k":1},
{"c":"E","e":6,"g":8,"z":0,"q":7,"a":2.7},{"c":"E","e":6,"g":8,"z":0,"q":6.2,"a":2.3},{"c":"E","e":6,"g":8,"z":0,"q":5.6,"a":1.75},{"c":"E","e":6,"g":8,"z":0,"q":5.5,"a":1.4,"s":"0"},{"c":"E","e":6,"g":8,"z":0,"q":5.35,"a":1},{"c":"E","e":6,"g":8,"z":0,"q":5.35,"a":0,"k":1},{"c":"E","e":6,"g":8,"z":0,"q":8,"a":0,"k":1},{"c":"E","e":6,"g":8,"z":0,"q":8,"a":2.7,"k":1},
{"c":"E","e":6,"g":9,"z":0.5,"q":1,"a":4},{"c":"E","e":6,"g":9,"z":0.5,"q":3.65,"a":4.25},{"c":"E","e":6,"g":9,"z":0.5,"q":4.2,"a":4.3,"s":"0.5"},{"c":"E","e":6,"g":9,"z":0.5,"q":4.8,"a":4.45},{"c":"E","e":6,"g":9,"z":0.5,"q":7,"a":4.75},{"c":"E","e":6,"g":9,"z":0.5,"q":8,"a":4.75,"k":1},{"c":"E","e":6,"g":9,"z":0.5,"q":8,"a":8,"k":1},{"c":"E","e":6,"g":9,"z":0.5,"q":3.5,"a":8,"k":1},{"c":"E","e":6,"g":9,"z":0.5,"q":3.5,"a":7},{"c":"E","e":6,"g":9,"z":0.5,"q":2.8,"a":6.6},{"c":"E","e":6,"g":9,"z":0.5,"q":2.2,"a":6.25},{"c":"E","e":6,"g":9,"z":0.5,"q":1.55,"a":6.05,"s":"0.5"},{"c":"E","e":6,"g":9,"z":0.5,"q":1,"a":5.9},{"c":"E","e":6,"g":9,"z":0.5,"q":0,"a":5.9,"k":1},{"c":"E","e":6,"g":9,"z":0.5,"q":0,"a":4,"k":1},
{"c":"E","e":6,"g":10,"z":0.5,"q":7,"a":2.3},{"c":"E","e":6,"g":10,"z":0.5,"q":6.4,"a":1.9,"s":"0.5"},{"c":"E","e":6,"g":10,"z":0.5,"q":6,"a":1.6},{"c":"E","e":6,"g":10,"z":0.5,"q":5.75,"a":1},{"c":"E","e":6,"g":10,"z":0.5,"q":5.75,"a":0,"k":1},{"c":"E","e":6,"g":10,"z":0.5,"q":8,"a":0,"k":1},{"c":"E","e":6,"g":10,"z":0.5,"q":8,"a":2.3,"k":1},
{"c":"E","e":6,"g":11,"z":1,"q":1,"a":4.6},{"c":"E","e":6,"g":11,"z":1,"q":1.4,"a":4.65,"s":"1"},{"c":"E","e":6,"g":11,"z":1,"q":1.75,"a":4.7},{"c":"E","e":6,"g":11,"z":1,"q":4.4,"a":4.8},{"c":"E","e":6,"g":11,"z":1,"q":7,"a":5.05},{"c":"E","e":6,"g":11,"z":1,"q":8,"a":5.05,"k":1},{"c":"E","e":6,"g":11,"z":1,"q":8,"a":8,"k":1},{"c":"E","e":6,"g":11,"z":1,"q":4.25,"a":8,"k":1},{"c":"E","e":6,"g":11,"z":1,"q":4.25,"a":7},{"c":"E","e":6,"g":11,"z":1,"q":4.05,"a":6.75,"s":"1"},{"c":"E","e":6,"g":11,"z":1,"q":3.65,"a":6.45},{"c":"E","e":6,"g":11,"z":1,"q":2.25,"a":5.6},{"c":"E","e":6,"g":11,"z":1,"q":1,"a":5.25},{"c":"E","e":6,"g":11,"z":1,"q":0,"a":5.25,"k":1},{"c":"E","e":6,"g":11,"z":1,"q":0,"a":4.6,"k":1},
{"c":"E","e":6,"g":12,"z":1,"q":7,"a":2.05},{"c":"E","e":6,"g":12,"z":1,"q":6.45,"a":1.6},{"c":"E","e":6,"g":12,"z":1,"q":6.1,"a":1},{"c":"E","e":6,"g":12,"z":1,"q":6.1,"a":0,"k":1},{"c":"E","e":6,"g":12,"z":1,"q":8,"a":0,"k":1},{"c":"E","e":6,"g":12,"z":1,"q":8,"a":2.05,"k":1},
{"c":"E","e":6,"g":13,"z":1.5,"q":7,"a":5.35},{"c":"E","e":6,"g":13,"z":1.5,"q":5.7,"a":5.4},{"c":"E","e":6,"g":13,"z":1.5,"q":4.75,"a":5.5},{"c":"E","e":6,"g":13,"z":1.5,"q":4.75,"a":6.1,"s":"1.5"},{"c":"E","e":6,"g":13,"z":1.5,"q":4.85,"a":6.7},{"c":"E","e":6,"g":13,"z":1.5,"q":5,"a":7},{"c":"E","e":6,"g":13,"z":1.5,"q":5,"a":8,"k":1},{"c":"E","e":6,"g":13,"z":1.5,"q":8,"a":8,"k":1},{"c":"E","e":6,"g":13,"z":1.5,"q":8,"a":5.35,"k":1},
{"c":"E","e":6,"g":14,"z":1.5,"q":7,"a":1.8},{"c":"E","e":6,"g":14,"z":1.5,"q":6.55,"a":1.4},{"c":"E","e":6,"g":14,"z":1.5,"q":6.3,"a":1},{"c":"E","e":6,"g":14,"z":1.5,"q":6.3,"a":0,"k":1},{"c":"E","e":6,"g":14,"z":1.5,"q":8,"a":0,"k":1},{"c":"E","e":6,"g":14,"z":1.5,"q":8,"a":1.8,"k":1},
{"c":"E","e":6,"g":15,"z":2,"q":7,"a":5.75},{"c":"E","e":6,"g":15,"z":2,"q":6.3,"a":5.85},{"c":"E","e":6,"g":15,"z":2,"q":5.75,"a":6.2},{"c":"E","e":6,"g":15,"z":2,"q":5.6,"a":6.6,"s":"2"},{"c":"E","e":6,"g":15,"z":2,"q":5.65,"a":7},{"c":"E","e":6,"g":15,"z":2,"q":5.65,"a":8,"k":1},{"c":"E","e":6,"g":15,"z":2,"q":8,"a":8,"k":1},{"c":"E","e":6,"g":15,"z":2,"q":8,"a":5.75,"k":1},
{"c":"E","e":6,"g":16,"z":2,"q":7,"a":1.6},{"c":"E","e":6,"g":16,"z":2,"q":6.7,"a":1.25,"s":"2"},{"c":"E","e":6,"g":16,"z":2,"q":6.4,"a":1},{"c":"E","e":6,"g":16,"z":2,"q":6.4,"a":0,"k":1},{"c":"E","e":6,"g":16,"z":2,"q":8,"a":0,"k":1},{"c":"E","e":6,"g":16,"z":2,"q":8,"a":1.6,"k":1},
{"c":"E","e":6,"g":17,"z":-1,"q":1.9,"a":7},{"c":"E","e":6,"g":17,"z":-1,"q":1,"a":6.65},{"c":"E","e":6,"g":17,"z":-1,"q":0,"a":6.65,"k":1},{"c":"E","e":6,"g":17,"z":-1,"q":0,"a":8,"k":1},{"c":"E","e":6,"g":17,"z":-1,"q":1.9,"a":8,"k":1},
{"c":"E","e":6,"g":18,"z":9,"q":4.25,"a":7},{"c":"E","e":6,"g":18,"z":9,"q":3.55,"a":6.5},{"c":"E","e":6,"g":18,"z":9,"q":2.85,"a":5.7},{"c":"E","e":6,"g":18,"z":9,"q":2.8,"a":5.15},{"c":"E","e":6,"g":18,"z":9,"q":3.1,"a":4.75},{"c":"E","e":6,"g":18,"z":9,"q":4.15,"a":4.4},{"c":"E","e":6,"g":18,"z":9,"q":5.7,"a":4.8},{"c":"E","e":6,"g":18,"z":9,"q":7,"a":4.9},{"c":"E","e":6,"g":18,"z":9,"q":8,"a":4.9},{"c":"E","e":6,"g":18,"z":9,"q":8,"a":1.8},{"c":"E","e":6,"g":18,"z":9,"q":7,"a":1.8},{"c":"E","e":6,"g":18,"z":9,"q":6.55,"a":1.5},{"c":"E","e":6,"g":18,"z":9,"q":6.15,"a":1},{"c":"E","e":6,"g":18,"z":9,"q":6.15,"a":0},{"c":"E","e":6,"g":18,"z":9,"q":4.6,"a":0},{"c":"E","e":6,"g":18,"z":9,"q":4.6,"a":1},{"c":"E","e":6,"g":18,"z":9,"q":4.75,"a":2.05},{"c":"E","e":6,"g":18,"z":9,"q":4.6,"a":2.45},{"c":"E","e":6,"g":18,"z":9,"q":4.25,"a":2.65},{"c":"E","e":6,"g":18,"z":9,"q":3,"a":2.6},{"c":"E","e":6,"g":18,"z":9,"q":2.2,"a":2.5},{"c":"E","e":6,"g":18,"z":9,"q":1.5,"a":2.45},{"c":"E","e":6,"g":18,"z":9,"q":1,"a":2.4},{"c":"E","e":6,"g":18,"z":9,"q":0,"a":2.4},{"c":"E","e":6,"g":18,"z":9,"q":0,"a":8},{"c":"E","e":6,"g":18,"z":9,"q":4.25,"a":8},

{"c":"F","e":2,"g":1,"z":-2,"q":8,"a":0,"k":1},{"c":"F","e":2,"g":1,"z":-2,"q":8,"a":8,"k":1},{"c":"F","e":2,"g":1,"z":-2,"q":0,"a":8,"k":1},{"c":"F","e":2,"g":1,"z":-2,"q":0,"a":0,"k":1},
{"c":"F","e":2,"g":2,"z":-1.5,"q":1.25,"a":7},{"c":"F","e":2,"g":2,"z":-1.5,"q":1.3,"a":5.9},{"c":"F","e":2,"g":2,"z":-1.5,"q":1.3,"a":5.55,"s":"−1.5"},{"c":"F","e":2,"g":2,"z":-1.5,"q":1.3,"a":4.6},{"c":"F","e":2,"g":2,"z":-1.5,"q":1.2,"a":4.05},{"c":"F","e":2,"g":2,"z":-1.5,"q":1,"a":3.65},{"c":"F","e":2,"g":2,"z":-1.5,"q":0,"a":3.65,"k":1},{"c":"F","e":2,"g":2,"z":-1.5,"q":0,"a":0,"k":1},{"c":"F","e":2,"g":2,"z":-1.5,"q":8,"a":0,"k":1},{"c":"F","e":2,"g":2,"z":-1.5,"q":8,"a":8,"k":1},{"c":"F","e":2,"g":2,"z":-1.5,"q":1.25,"a":8,"k":1},
{"c":"F","e":2,"g":3,"z":-1,"q":1.65,"a":7},{"c":"F","e":2,"g":3,"z":-1,"q":1.9,"a":5.45},{"c":"F","e":2,"g":3,"z":-1,"q":2.05,"a":4.65},{"c":"F","e":2,"g":3,"z":-1,"q":2.05,"a":4.1,"s":"−1"},{"c":"F","e":2,"g":3,"z":-1,"q":2.1,"a":3.4},{"c":"F","e":2,"g":3,"z":-1,"q":1.8,"a":2.5},{"c":"F","e":2,"g":3,"z":-1,"q":2.15,"a":1.9},{"c":"F","e":2,"g":3,"z":-1,"q":2.65,"a":1.7},{"c":"F","e":2,"g":3,"z":-1,"q":3.7,"a":2},{"c":"F","e":2,"g":3,"z":-1,"q":4.3,"a":1.8},{"c":"F","e":2,"g":3,"z":-1,"q":4.65,"a":1},{"c":"F","e":2,"g":3,"z":-1,"q":4.65,"a":0,"k":1},{"c":"F","e":2,"g":3,"z":-1,"q":8,"a":0,"k":1},{"c":"F","e":2,"g":3,"z":-1,"q":8,"a":8,"k":1},{"c":"F","e":2,"g":3,"z":-1,"q":1.65,"a":8,"k":1},
{"c":"F","e":2,"g":4,"z":-0.5,"q":2.05,"a":7},{"c":"F","e":2,"g":4,"z":-0.5,"q":2.35,"a":6},{"c":"F","e":2,"g":4,"z":-0.5,"q":2.85,"a":4.85},{"c":"F","e":2,"g":4,"z":-0.5,"q":3.85,"a":3.95},{"c":"F","e":2,"g":4,"z":-0.5,"q":4.65,"a":3.4},{"c":"F","e":2,"g":4,"z":-0.5,"q":5.05,"a":2.65},{"c":"F","e":2,"g":4,"z":-0.5,"q":5.05,"a":1.9,"s":"−0.5"},{"c":"F","e":2,"g":4,"z":-0.5,"q":5.15,"a":1},{"c":"F","e":2,"g":4,"z":-0.5,"q":5.15,"a":0,"k":1},{"c":"F","e":2,"g":4,"z":-0.5,"q":8,"a":0,"k":1},{"c":"F","e":2,"g":4,"z":-0.5,"q":8,"a":8,"k":1},{"c":"F","e":2,"g":4,"z":-0.5,"q":2.05,"a":8,"k":1},
{"c":"F","e":2,"g":5,"z":0,"q":2.45,"a":7},{"c":"F","e":2,"g":5,"z":0,"q":2.75,"a":5.65},{"c":"F","e":2,"g":5,"z":0,"q":3.5,"a":4.95},{"c":"F","e":2,"g":5,"z":0,"q":4.8,"a":4.15},{"c":"F","e":2,"g":5,"z":0,"q":5.5,"a":3.6},{"c":"F","e":2,"g":5,"z":0,"q":5.65,"a":3},{"c":"F","e":2,"g":5,"z":0,"q":5.65,"a":2.6,"s":"0"},{"c":"F","e":2,"g":5,"z":0,"q":5.7,"a":2.2},{"c":"F","e":2,"g":5,"z":0,"q":5.65,"a":1},{"c":"F","e":2,"g":5,"z":0,"q":5.65,"a":0,"k":1},{"c":"F","e":2,"g":5,"z":0,"q":8,"a":0,"k":1},{"c":"F","e":2,"g":5,"z":0,"q":8,"a":8,"k":1},{"c":"F","e":2,"g":5,"z":0,"q":2.45,"a":8,"k":1},
{"c":"F","e":2,"g":6,"z":0.5,"q":2.8,"a":7},{"c":"F","e":2,"g":6,"z":0.5,"q":3.1,"a":6.45,"s":"0.5"},{"c":"F","e":2,"g":6,"z":0.5,"q":3.4,"a":5.9},{"c":"F","e":2,"g":6,"z":0.5,"q":4.2,"a":5},{"c":"F","e":2,"g":6,"z":0.5,"q":5.25,"a":4.4},{"c":"F","e":2,"g":6,"z":0.5,"q":6,"a":3.85},{"c":"F","e":2,"g":6,"z":0.5,"q":6.2,"a":3.4},{"c":"F","e":2,"g":6,"z":0.5,"q":6.2,"a":2.35},{"c":"F","e":2,"g":6,"z":0.5,"q":6,"a":1},{"c":"F","e":2,"g":6,"z":0.5,"q":6,"a":0,"k":1},{"c":"F","e":2,"g":6,"z":0.5,"q":8,"a":0,"k":1},{"c":"F","e":2,"g":6,"z":0.5,"q":8,"a":8,"k":1},{"c":"F","e":2,"g":6,"z":0.5,"q":2.8,"a":8,"k":1},
{"c":"F","e":2,"g":7,"z":1,"q":3.25,"a":7},{"c":"F","e":2,"g":7,"z":1,"q":3.7,"a":6.2},{"c":"F","e":2,"g":7,"z":1,"q":4.5,"a":5.35},{"c":"F","e":2,"g":7,"z":1,"q":5.4,"a":4.75},{"c":"F","e":2,"g":7,"z":1,"q":6.35,"a":4.3},{"c":"F","e":2,"g":7,"z":1,"q":6.7,"a":3.75},{"c":"F","e":2,"g":7,"z":1,"q":6.7,"a":3.4,"s":"1"},{"c":"F","e":2,"g":7,"z":1,"q":6.75,"a":3},{"c":"F","e":2,"g":7,"z":1,"q":6.3,"a":1.1},{"c":"F","e":2,"g":7,"z":1,"q":6.25,"a":1},{"c":"F","e":2,"g":7,"z":1,"q":6.25,"a":0,"k":1},{"c":"F","e":2,"g":7,"z":1,"q":8,"a":0,"k":1},{"c":"F","e":2,"g":7,"z":1,"q":8,"a":8,"k":1},{"c":"F","e":2,"g":7,"z":1,"q":3.25,"a":8,"k":1},
{"c":"F","e":2,"g":8,"z":1.5,"q":3.75,"a":7},{"c":"F","e":2,"g":8,"z":1.5,"q":4.05,"a":6.55,"s":"1.5"},{"c":"F","e":2,"g":8,"z":1.5,"q":4.45,"a":6.05},{"c":"F","e":2,"g":8,"z":1.5,"q":5.65,"a":5.2},{"c":"F","e":2,"g":8,"z":1.5,"q":7,"a":4.45},{"c":"F","e":2,"g":8,"z":1.5,"q":8,"a":4.45,"k":1},{"c":"F","e":2,"g":8,"z":1.5,"q":8,"a":8,"k":1},{"c":"F","e":2,"g":8,"z":1.5,"q":3.75,"a":8,"k":1},
{"c":"F","e":2,"g":9,"z":1.5,"q":7,"a":2.35},{"c":"F","e":2,"g":9,"z":1.5,"q":6.75,"a":1.65,"s":"1.5"},{"c":"F","e":2,"g":9,"z":1.5,"q":6.55,"a":1},{"c":"F","e":2,"g":9,"z":1.5,"q":6.55,"a":0,"k":1},{"c":"F","e":2,"g":9,"z":1.5,"q":8,"a":0,"k":1},{"c":"F","e":2,"g":9,"z":1.5,"q":8,"a":2.35,"k":1},
{"c":"F","e":2,"g":10,"z":2,"q":4.2,"a":7},{"c":"F","e":2,"g":10,"z":2,"q":4.8,"a":6.4},{"c":"F","e":2,"g":10,"z":2,"q":5.2,"a":6.05,"s":"2"},{"c":"F","e":2,"g":10,"z":2,"q":5.5,"a":5.75},{"c":"F","e":2,"g":10,"z":2,"q":7,"a":5.05},{"c":"F","e":2,"g":10,"z":2,"q":8,"a":5.05,"k":1},{"c":"F","e":2,"g":10,"z":2,"q":8,"a":8,"k":1},{"c":"F","e":2,"g":10,"z":2,"q":4.2,"a":8,"k":1},
{"c":"F","e":2,"g":11,"z":2,"q":7,"a":1.5},{"c":"F","e":2,"g":11,"z":2,"q":6.8,"a":1},{"c":"F","e":2,"g":11,"z":2,"q":6.8,"a":0,"k":1},{"c":"F","e":2,"g":11,"z":2,"q":8,"a":0,"k":1},{"c":"F","e":2,"g":11,"z":2,"q":8,"a":1.5,"k":1},
{"c":"F","e":2,"g":12,"z":9,"q":3.6,"a":7},{"c":"F","e":2,"g":12,"z":9,"q":3.6,"a":6.2},{"c":"F","e":2,"g":12,"z":9,"q":3.95,"a":5.35},{"c":"F","e":2,"g":12,"z":9,"q":4.65,"a":4.55},{"c":"F","e":2,"g":12,"z":9,"q":5.6,"a":4.1},{"c":"F","e":2,"g":12,"z":9,"q":6.2,"a":3.3},{"c":"F","e":2,"g":12,"z":9,"q":6.25,"a":2.35},{"c":"F","e":2,"g":12,"z":9,"q":6.3,"a":1},{"c":"F","e":2,"g":12,"z":9,"q":6.3,"a":0},{"c":"F","e":2,"g":12,"z":9,"q":5.1,"a":0},{"c":"F","e":2,"g":12,"z":9,"q":5.1,"a":1},{"c":"F","e":2,"g":12,"z":9,"q":5.3,"a":2.8},{"c":"F","e":2,"g":12,"z":9,"q":5.25,"a":3.6},{"c":"F","e":2,"g":12,"z":9,"q":4.55,"a":4.2},{"c":"F","e":2,"g":12,"z":9,"q":3.1,"a":4.6},{"c":"F","e":2,"g":12,"z":9,"q":1.9,"a":5.15},{"c":"F","e":2,"g":12,"z":9,"q":1,"a":5.25},{"c":"F","e":2,"g":12,"z":9,"q":0,"a":5.25},{"c":"F","e":2,"g":12,"z":9,"q":0,"a":8},{"c":"F","e":2,"g":12,"z":9,"q":3.6,"a":8},

{"c":"F","e":4,"g":1,"z":-2,"q":1.6,"a":7},{"c":"F","e":4,"g":1,"z":-2,"q":1.5,"a":6.4,"s":"−2"},{"c":"F","e":4,"g":1,"z":-2,"q":1.45,"a":6},{"c":"F","e":4,"g":1,"z":-2,"q":1.2,"a":4.75},{"c":"F","e":4,"g":1,"z":-2,"q":1,"a":4.1},{"c":"F","e":4,"g":1,"z":-2,"q":0,"a":4.1,"k":1},{"c":"F","e":4,"g":1,"z":-2,"q":0,"a":0,"k":1},{"c":"F","e":4,"g":1,"z":-2,"q":8,"a":0,"k":1},{"c":"F","e":4,"g":1,"z":-2,"q":8,"a":8,"k":1},{"c":"F","e":4,"g":1,"z":-2,"q":1.6,"a":8,"k":1},
{"c":"F","e":4,"g":2,"z":-1.5,"q":1.85,"a":7},{"c":"F","e":4,"g":2,"z":-1.5,"q":1.8,"a":6.1},{"c":"F","e":4,"g":2,"z":-1.5,"q":1.75,"a":5.4,"s":"−1.5"},{"c":"F","e":4,"g":2,"z":-1.5,"q":1.6,"a":4.2},{"c":"F","e":4,"g":2,"z":-1.5,"q":1,"a":3.15},{"c":"F","e":4,"g":2,"z":-1.5,"q":0,"a":3.15,"k":1},{"c":"F","e":4,"g":2,"z":-1.5,"q":0,"a":0,"k":1},{"c":"F","e":4,"g":2,"z":-1.5,"q":8,"a":0,"k":1},{"c":"F","e":4,"g":2,"z":-1.5,"q":8,"a":8,"k":1},{"c":"F","e":4,"g":2,"z":-1.5,"q":1.85,"a":8,"k":1},
{"c":"F","e":4,"g":3,"z":-1,"q":2.1,"a":7},{"c":"F","e":4,"g":3,"z":-1,"q":2.2,"a":5.15},{"c":"F","e":4,"g":3,"z":-1,"q":2.15,"a":3.9},{"c":"F","e":4,"g":3,"z":-1,"q":1.9,"a":3.15},{"c":"F","e":4,"g":3,"z":-1,"q":1.65,"a":2.45},{"c":"F","e":4,"g":3,"z":-1,"q":1.55,"a":2,"s":"−1"},{"c":"F","e":4,"g":3,"z":-1,"q":1.6,"a":1.2},{"c":"F","e":4,"g":3,"z":-1,"q":1.6,"a":1},{"c":"F","e":4,"g":3,"z":-1,"q":1.6,"a":0,"k":1},{"c":"F","e":4,"g":3,"z":-1,"q":8,"a":0,"k":1},{"c":"F","e":4,"g":3,"z":-1,"q":8,"a":8,"k":1},{"c":"F","e":4,"g":3,"z":-1,"q":2.1,"a":8,"k":1},
{"c":"F","e":4,"g":4,"z":-0.5,"q":2.4,"a":7},{"c":"F","e":4,"g":4,"z":-0.5,"q":2.65,"a":5.6},{"c":"F","e":4,"g":4,"z":-0.5,"q":2.9,"a":3.9},{"c":"F","e":4,"g":4,"z":-0.5,"q":2.85,"a":3.25,"s":"−0.5"},{"c":"F","e":4,"g":4,"z":-0.5,"q":2.9,"a":2.25},{"c":"F","e":4,"g":4,"z":-0.5,"q":3.1,"a":1.7},{"c":"F","e":4,"g":4,"z":-0.5,"q":3.65,"a":1},{"c":"F","e":4,"g":4,"z":-0.5,"q":3.65,"a":0,"k":1},{"c":"F","e":4,"g":4,"z":-0.5,"q":8,"a":0,"k":1},{"c":"F","e":4,"g":4,"z":-0.5,"q":8,"a":8,"k":1},{"c":"F","e":4,"g":4,"z":-0.5,"q":2.4,"a":8,"k":1},
{"c":"F","e":4,"g":5,"z":0,"q":2.65,"a":7},{"c":"F","e":4,"g":5,"z":0,"q":3,"a":5.9},{"c":"F","e":4,"g":5,"z":0,"q":3.75,"a":4.55},{"c":"F","e":4,"g":5,"z":0,"q":4.55,"a":3.6},{"c":"F","e":4,"g":5,"z":0,"q":4.75,"a":2.75},{"c":"F","e":4,"g":5,"z":0,"q":4.75,"a":2.3,"s":"0"},{"c":"F","e":4,"g":5,"z":0,"q":4.75,"a":1.9},{"c":"F","e":4,"g":5,"z":0,"q":4.7,"a":1},{"c":"F","e":4,"g":5,"z":0,"q":4.7,"a":0,"k":1},{"c":"F","e":4,"g":5,"z":0,"q":8,"a":0,"k":1},{"c":"F","e":4,"g":5,"z":0,"q":8,"a":8,"k":1},{"c":"F","e":4,"g":5,"z":0,"q":2.65,"a":8,"k":1},
{"c":"F","e":4,"g":6,"z":0.5,"q":2.95,"a":7},{"c":"F","e":4,"g":6,"z":0.5,"q":3.35,"a":6},{"c":"F","e":4,"g":6,"z":0.5,"q":4.1,"a":5.15},{"c":"F","e":4,"g":6,"z":0.5,"q":4.95,"a":4.3},{"c":"F","e":4,"g":6,"z":0.5,"q":5.25,"a":3.9},{"c":"F","e":4,"g":6,"z":0.5,"q":5.3,"a":3.5,"s":"0.5"},{"c":"F","e":4,"g":6,"z":0.5,"q":5.4,"a":2.7},{"c":"F","e":4,"g":6,"z":0.5,"q":5,"a":1},{"c":"F","e":4,"g":6,"z":0.5,"q":5,"a":0,"k":1},{"c":"F","e":4,"g":6,"z":0.5,"q":8,"a":0,"k":1},{"c":"F","e":4,"g":6,"z":0.5,"q":8,"a":8,"k":1},{"c":"F","e":4,"g":6,"z":0.5,"q":2.95,"a":8,"k":1},
{"c":"F","e":4,"g":7,"z":1,"q":3.25,"a":7},{"c":"F","e":4,"g":7,"z":1,"q":3.7,"a":6.1},{"c":"F","e":4,"g":7,"z":1,"q":4.7,"a":5.15},{"c":"F","e":4,"g":7,"z":1,"q":5.65,"a":4.5},{"c":"F","e":4,"g":7,"z":1,"q":5.85,"a":3.7},{"c":"F","e":4,"g":7,"z":1,"q":5.6,"a":2.35},{"c":"F","e":4,"g":7,"z":1,"q":5.55,"a":1.45,"s":"1"},{"c":"F","e":4,"g":7,"z":1,"q":5.4,"a":1},{"c":"F","e":4,"g":7,"z":1,"q":5.4,"a":0,"k":1},{"c":"F","e":4,"g":7,"z":1,"q":8,"a":0,"k":1},{"c":"F","e":4,"g":7,"z":1,"q":8,"a":8,"k":1},{"c":"F","e":4,"g":7,"z":1,"q":3.25,"a":8,"k":1},
{"c":"F","e":4,"g":8,"z":1.5,"q":3.55,"a":7},{"c":"F","e":4,"g":8,"z":1.5,"q":4.2,"a":6.2},{"c":"F","e":4,"g":8,"z":1.5,"q":5.4,"a":5.6},{"c":"F","e":4,"g":8,"z":1.5,"q":6.1,"a":4.4},{"c":"F","e":4,"g":8,"z":1.5,"q":6.1,"a":3.8,"s":"1.5"},{"c":"F","e":4,"g":8,"z":1.5,"q":6.2,"a":3.1},{"c":"F","e":4,"g":8,"z":1.5,"q":5.7,"a":1},{"c":"F","e":4,"g":8,"z":1.5,"q":5.7,"a":0,"k":1},{"c":"F","e":4,"g":8,"z":1.5,"q":8,"a":0,"k":1},{"c":"F","e":4,"g":8,"z":1.5,"q":8,"a":8,"k":1},{"c":"F","e":4,"g":8,"z":1.5,"q":3.55,"a":8,"k":1},
{"c":"F","e":4,"g":9,"z":2,"q":3.95,"a":7},{"c":"F","e":4,"g":9,"z":2,"q":4.5,"a":6.4},{"c":"F","e":4,"g":9,"z":2,"q":5.55,"a":5.8},{"c":"F","e":4,"g":9,"z":2,"q":6.4,"a":4.85},{"c":"F","e":4,"g":9,"z":2,"q":6.6,"a":4},{"c":"F","e":4,"g":9,"z":2,"q":6.35,"a":2.65},{"c":"F","e":4,"g":9,"z":2,"q":6.2,"a":2.1,"s":"2"},{"c":"F","e":4,"g":9,"z":2,"q":6.1,"a":1.7},{"c":"F","e":4,"g":9,"z":2,"q":5.95,"a":1},{"c":"F","e":4,"g":9,"z":2,"q":5.95,"a":0,"k":1},{"c":"F","e":4,"g":9,"z":2,"q":8,"a":0,"k":1},{"c":"F","e":4,"g":9,"z":2,"q":8,"a":8,"k":1},{"c":"F","e":4,"g":9,"z":2,"q":3.95,"a":8,"k":1},
{"c":"F","e":4,"g":10,"z":9,"q":3.75,"a":7},{"c":"F","e":4,"g":10,"z":9,"q":3.8,"a":5.35},{"c":"F","e":4,"g":10,"z":9,"q":4.1,"a":4.65},{"c":"F","e":4,"g":10,"z":9,"q":4.7,"a":4.2},{"c":"F","e":4,"g":10,"z":9,"q":5.3,"a":3.6},{"c":"F","e":4,"g":10,"z":9,"q":5.45,"a":2.55},{"c":"F","e":4,"g":10,"z":9,"q":5.7,"a":1},{"c":"F","e":4,"g":10,"z":9,"q":5.7,"a":0},{"c":"F","e":4,"g":10,"z":9,"q":2.1,"a":0},{"c":"F","e":4,"g":10,"z":9,"q":2.1,"a":1},{"c":"F","e":4,"g":10,"z":9,"q":2.65,"a":1.5},{"c":"F","e":4,"g":10,"z":9,"q":3.05,"a":1.65},{"c":"F","e":4,"g":10,"z":9,"q":3.3,"a":2},{"c":"F","e":4,"g":10,"z":9,"q":3.35,"a":2.45},{"c":"F","e":4,"g":10,"z":9,"q":3.4,"a":3.15},{"c":"F","e":4,"g":10,"z":9,"q":3.05,"a":3.45},{"c":"F","e":4,"g":10,"z":9,"q":2.2,"a":3.95},{"c":"F","e":4,"g":10,"z":9,"q":1.6,"a":3.8},{"c":"F","e":4,"g":10,"z":9,"q":1,"a":3.5},{"c":"F","e":4,"g":10,"z":9,"q":0,"a":3.5},{"c":"F","e":4,"g":10,"z":9,"q":0,"a":8},{"c":"F","e":4,"g":10,"z":9,"q":3.75,"a":8},

{"c":"F","e":6,"g":1,"z":-2,"q":1.45,"a":7},{"c":"F","e":6,"g":1,"z":-2,"q":1.7,"a":6.25},{"c":"F","e":6,"g":1,"z":-2,"q":1.55,"a":5.8,"s":"−2"},{"c":"F","e":6,"g":1,"z":-2,"q":1.7,"a":5.2},{"c":"F","e":6,"g":1,"z":-2,"q":1.65,"a":4.45},{"c":"F","e":6,"g":1,"z":-2,"q":1.3,"a":3.45},{"c":"F","e":6,"g":1,"z":-2,"q":1,"a":2.85},{"c":"F","e":6,"g":1,"z":-2,"q":0,"a":2.85,"k":1},{"c":"F","e":6,"g":1,"z":-2,"q":0,"a":0,"k":1},{"c":"F","e":6,"g":1,"z":-2,"q":8,"a":0,"k":1},{"c":"F","e":6,"g":1,"z":-2,"q":8,"a":8,"k":1},{"c":"F","e":6,"g":1,"z":-2,"q":1.45,"a":8,"k":1},
{"c":"F","e":6,"g":2,"z":-1.5,"q":1.8,"a":7},{"c":"F","e":6,"g":2,"z":-1.5,"q":2.05,"a":5.8},{"c":"F","e":6,"g":2,"z":-1.5,"q":1.9,"a":4},{"c":"F","e":6,"g":2,"z":-1.5,"q":1.45,"a":2.65},{"c":"F","e":6,"g":2,"z":-1.5,"q":1.25,"a":1.85,"s":"−1.5"},{"c":"F","e":6,"g":2,"z":-1.5,"q":1,"a":1.25},{"c":"F","e":6,"g":2,"z":-1.5,"q":0,"a":1.25,"k":1},{"c":"F","e":6,"g":2,"z":-1.5,"q":0,"a":0,"k":1},{"c":"F","e":6,"g":2,"z":-1.5,"q":8,"a":0,"k":1},{"c":"F","e":6,"g":2,"z":-1.5,"q":8,"a":8,"k":1},{"c":"F","e":6,"g":2,"z":-1.5,"q":1.8,"a":8,"k":1},
{"c":"F","e":6,"g":3,"z":-1,"q":2.1,"a":7},{"c":"F","e":6,"g":3,"z":-1,"q":2.3,"a":4.9},{"c":"F","e":6,"g":3,"z":-1,"q":2.25,"a":4.5,"s":"−1"},{"c":"F","e":6,"g":3,"z":-1,"q":2.15,"a":3.75},{"c":"F","e":6,"g":3,"z":-1,"q":1.8,"a":2.65},{"c":"F","e":6,"g":3,"z":-1,"q":1.45,"a":1},{"c":"F","e":6,"g":3,"z":-1,"q":1.45,"a":0,"k":1},{"c":"F","e":6,"g":3,"z":-1,"q":8,"a":0,"k":1},{"c":"F","e":6,"g":3,"z":-1,"q":8,"a":8,"k":1},{"c":"F","e":6,"g":3,"z":-1,"q":2.1,"a":8,"k":1},
{"c":"F","e":6,"g":4,"z":-0.5,"q":2.4,"a":7},{"c":"F","e":6,"g":4,"z":-0.5,"q":2.45,"a":6.6},{"c":"F","e":6,"g":4,"z":-0.5,"q":2.55,"a":5.8,"s":"−0.5"},{"c":"F","e":6,"g":4,"z":-0.5,"q":2.6,"a":5},{"c":"F","e":6,"g":4,"z":-0.5,"q":2.6,"a":3.55},{"c":"F","e":6,"g":4,"z":-0.5,"q":2.25,"a":2.1},{"c":"F","e":6,"g":4,"z":-0.5,"q":2,"a":1},{"c":"F","e":6,"g":4,"z":-0.5,"q":2,"a":0,"k":1},{"c":"F","e":6,"g":4,"z":-0.5,"q":8,"a":0,"k":1},{"c":"F","e":6,"g":4,"z":-0.5,"q":8,"a":8,"k":1},{"c":"F","e":6,"g":4,"z":-0.5,"q":2.4,"a":8,"k":1},
{"c":"F","e":6,"g":5,"z":0,"q":2.7,"a":7},{"c":"F","e":6,"g":5,"z":0,"q":2.9,"a":5.6},{"c":"F","e":6,"g":5,"z":0,"q":3.05,"a":4.4},{"c":"F","e":6,"g":5,"z":0,"q":3.1,"a":4.05,"s":"0"},{"c":"F","e":6,"g":5,"z":0,"q":3.1,"a":3.6},{"c":"F","e":6,"g":5,"z":0,"q":2.9,"a":2.6},{"c":"F","e":6,"g":5,"z":0,"q":2.6,"a":1},{"c":"F","e":6,"g":5,"z":0,"q":2.6,"a":0,"k":1},{"c":"F","e":6,"g":5,"z":0,"q":8,"a":0,"k":1},{"c":"F","e":6,"g":5,"z":0,"q":8,"a":8,"k":1},{"c":"F","e":6,"g":5,"z":0,"q":2.7,"a":8,"k":1},
{"c":"F","e":6,"g":6,"z":0.5,"q":2.9,"a":7},{"c":"F","e":6,"g":6,"z":0.5,"q":3.35,"a":5.7},{"c":"F","e":6,"g":6,"z":0.5,"q":3.75,"a":3.8},{"c":"F","e":6,"g":6,"z":0.5,"q":3.7,"a":3.2,"s":"0.5"},{"c":"F","e":6,"g":6,"z":0.5,"q":3.7,"a":2.6},{"c":"F","e":6,"g":6,"z":0.5,"q":3.45,"a":1},{"c":"F","e":6,"g":6,"z":0.5,"q":3.45,"a":0,"k":1},{"c":"F","e":6,"g":6,"z":0.5,"q":8,"a":0,"k":1},{"c":"F","e":6,"g":6,"z":0.5,"q":8,"a":8,"k":1},{"c":"F","e":6,"g":6,"z":0.5,"q":2.9,"a":8,"k":1},
{"c":"F","e":6,"g":7,"z":1,"q":3.2,"a":7},{"c":"F","e":6,"g":7,"z":1,"q":3.35,"a":6.2},{"c":"F","e":6,"g":7,"z":1,"q":4.1,"a":4.6},{"c":"F","e":6,"g":7,"z":1,"q":4.8,"a":4.05},{"c":"F","e":6,"g":7,"z":1,"q":4.85,"a":3.65,"s":"1"},{"c":"F","e":6,"g":7,"z":1,"q":4.9,"a":3.25},{"c":"F","e":6,"g":7,"z":1,"q":4.3,"a":1},{"c":"F","e":6,"g":7,"z":1,"q":4.3,"a":0,"k":1},{"c":"F","e":6,"g":7,"z":1,"q":8,"a":0,"k":1},{"c":"F","e":6,"g":7,"z":1,"q":8,"a":8,"k":1},{"c":"F","e":6,"g":7,"z":1,"q":3.2,"a":8,"k":1},
{"c":"F","e":6,"g":8,"z":1.5,"q":3.5,"a":7},{"c":"F","e":6,"g":8,"z":1.5,"q":4.1,"a":5.6},{"c":"F","e":6,"g":8,"z":1.5,"q":5.3,"a":4.9},{"c":"F","e":6,"g":8,"z":1.5,"q":5.6,"a":4.1},{"c":"F","e":6,"g":8,"z":1.5,"q":5.15,"a":2.2},{"c":"F","e":6,"g":8,"z":1.5,"q":5,"a":1.7,"s":"1.5"},{"c":"F","e":6,"g":8,"z":1.5,"q":4.85,"a":1},{"c":"F","e":6,"g":8,"z":1.5,"q":4.85,"a":0,"k":1},{"c":"F","e":6,"g":8,"z":1.5,"q":8,"a":0,"k":1},{"c":"F","e":6,"g":8,"z":1.5,"q":8,"a":8,"k":1},{"c":"F","e":6,"g":8,"z":1.5,"q":3.5,"a":8,"k":1},
{"c":"F","e":6,"g":9,"z":2,"q":3.8,"a":7},{"c":"F","e":6,"g":9,"z":2,"q":4.2,"a":6.3},{"c":"F","e":6,"g":9,"z":2,"q":5.05,"a":5.8},{"c":"F","e":6,"g":9,"z":2,"q":5.7,"a":5.35},{"c":"F","e":6,"g":9,"z":2,"q":5.95,"a":4.6},{"c":"F","e":6,"g":9,"z":2,"q":5.95,"a":4.2,"s":"2"},{"c":"F","e":6,"g":9,"z":2,"q":5.95,"a":3.8},{"c":"F","e":6,"g":9,"z":2,"q":5.2,"a":1},{"c":"F","e":6,"g":9,"z":2,"q":5.2,"a":0,"k":1},{"c":"F","e":6,"g":9,"z":2,"q":8,"a":0,"k":1},{"c":"F","e":6,"g":9,"z":2,"q":8,"a":8,"k":1},{"c":"F","e":6,"g":9,"z":2,"q":3.8,"a":8,"k":1},
{"c":"F","e":6,"g":10,"z":9,"q":4.35,"a":7},{"c":"F","e":6,"g":10,"z":9,"q":4.1,"a":5.95},{"c":"F","e":6,"g":10,"z":9,"q":4.1,"a":5},{"c":"F","e":6,"g":10,"z":9,"q":4.45,"a":3.75},{"c":"F","e":6,"g":10,"z":9,"q":4.55,"a":2.3},{"c":"F","e":6,"g":10,"z":9,"q":5,"a":1.6},{"c":"F","e":6,"g":10,"z":9,"q":5.5,"a":1},{"c":"F","e":6,"g":10,"z":9,"q":5.5,"a":0},{"c":"F","e":6,"g":10,"z":9,"q":0,"a":0},{"c":"F","e":6,"g":10,"z":9,"q":0,"a":8},{"c":"F","e":6,"g":10,"z":9,"q":4.35,"a":8},

{"c":"F","e":2,"q":7,"x2":6.62,"a":7,"y2":7.32,"z":1.5},{"c":"F","e":2,"q":6.62,"x2":6.23,"a":7,"y2":7.32,"z":0.5},{"c":"F","e":2,"q":6.23,"x2":5.85,"a":7,"y2":7.32,"z":-0.5},{"c":"F","e":2,"q":5.85,"x2":5.47,"a":7,"y2":7.32,"z":-1.5},
{"c":"F","e":4,"q":7,"x2":6.62,"a":7,"y2":7.32,"z":1.5},{"c":"F","e":4,"q":6.62,"x2":6.23,"a":7,"y2":7.32,"z":0.5},{"c":"F","e":4,"q":6.23,"x2":5.85,"a":7,"y2":7.32,"z":-0.5},{"c":"F","e":4,"q":5.85,"x2":5.47,"a":7,"y2":7.32,"z":-1.5},
{"c":"F","e":6,"q":7,"x2":6.62,"a":7,"y2":7.32,"z":1.5},{"c":"F","e":6,"q":6.62,"x2":6.23,"a":7,"y2":7.32,"z":0.5},{"c":"F","e":6,"q":6.23,"x2":5.85,"a":7,"y2":7.32,"z":-0.5},{"c":"F","e":6,"q":5.85,"x2":5.47,"a":7,"y2":7.32,"z":-1.5},
{"c":"F","e":2,"q":7.05,"a":7.78,"t":"2"},{"c":"F","e":2,"q":6.67,"a":7.78,"t":"1"},{"c":"F","e":2,"q":6.3,"a":7.78,"t":"0"},{"c":"F","e":2,"q":5.9,"a":7.78,"t":"-1"},{"c":"F","e":2,"q":5.55,"a":7.78,"t":"-2"},
{"c":"F","e":4,"q":7.05,"a":7.78,"t":"2"},{"c":"F","e":4,"q":6.67,"a":7.78,"t":"1"},{"c":"F","e":4,"q":6.3,"a":7.78,"t":"0"},{"c":"F","e":4,"q":5.9,"a":7.78,"t":"-1"},{"c":"F","e":4,"q":5.55,"a":7.78,"t":"-2"},
{"c":"F","e":6,"q":7.05,"a":7.78,"t":"2"},{"c":"F","e":6,"q":6.67,"a":7.78,"t":"1"},{"c":"F","e":6,"q":6.3,"a":7.78,"t":"0"},{"c":"F","e":6,"q":5.9,"a":7.78,"t":"-1"},{"c":"F","e":6,"q":5.55,"a":7.78,"t":"-2"}
]},
"spec":{"width":233,"height":224,"layer":[
{"transform":[{"filter":"isValid(datum.g)"}],"mark":{"type":"line","interpolate":"cardinal","tension":0.3,"clip":true,"stroke":null,"fillOpacity":1},
"encoding":{"x":{"field":"q","type":"quantitative","title":"Quality","scale":{"domain":[7,1],"nice":false,"zero":false},"axis":{"values":[1,2,3,4,5,6,7]}},
"y":{"field":"a","type":"quantitative","title":"Attitude","scale":{"domain":[1,7],"nice":false,"zero":false},"axis":{"orient":"right","values":[1,2,3,4,5,6,7]}},
"detail":{"field":"g","type":"nominal"},"order":{"value":null},
"fill":{"field":"z","type":"ordinal","legend":null,"scale":{"domain":[-2,-1.5,-1,-0.5,0,0.5,1,1.5,2,9],"range":["#ff2000","#ff4400","#ff6a00","#ff8c00","#ffb400","#ffdc00","#ffff20","#ffffa0","#ffffff","rgba(0,0,0,0.5)"]}}}},
{"transform":[{"filter":"isValid(datum.g)&&datum.z<9"},{"calculate":"(datum.k||datum.s)?null:datum.q","as":"q2"}],"mark":{"type":"line","interpolate":"cardinal","tension":0.3,"clip":true,"stroke":"black","strokeWidth":2},
"encoding":{"x":{"field":"q2","type":"quantitative","title":"Quality","axis":{"values":[1,2,3,4,5,6,7]}},"y":{"field":"a","type":"quantitative","title":"Attitude","axis":{"orient":"right","values":[1,2,3,4,5,6,7]}},"detail":{"field":"g","type":"nominal"},"order":{"value":null}}},
{"transform":[{"filter":"isValid(datum.s)"}],"mark":{"type":"text","angle":270,"fontSize":20,"color":"#666666","clip":true},
"encoding":{"x":{"field":"q","type":"quantitative","title":"Quality","axis":{"values":[1,2,3,4,5,6,7]}},"y":{"field":"a","type":"quantitative","title":"Attitude","axis":{"orient":"right","values":[1,2,3,4,5,6,7]}},"text":{"field":"s"}}},
{"transform":[{"filter":"isValid(datum.x2)"}],"mark":{"type":"rect","stroke":"black","strokeWidth":1.5},
"encoding":{"x":{"field":"q","type":"quantitative","title":"Quality","axis":{"values":[1,2,3,4,5,6,7]}},"x2":{"field":"x2"},"y":{"field":"a","type":"quantitative","title":"Attitude","axis":{"orient":"right","values":[1,2,3,4,5,6,7]}},"y2":{"field":"y2"},"fill":{"field":"z","type":"ordinal","legend":null}}},
{"transform":[{"filter":"isValid(datum.t)"}],"mark":{"type":"text","angle":270,"fontSize":16,"color":"black"},
"encoding":{"x":{"field":"q","type":"quantitative","title":"Quality","axis":{"values":[1,2,3,4,5,6,7]}},"y":{"field":"a","type":"quantitative","title":"Attitude","axis":{"orient":"right","values":[1,2,3,4,5,6,7]}},"text":{"field":"t"}}}
]}}
